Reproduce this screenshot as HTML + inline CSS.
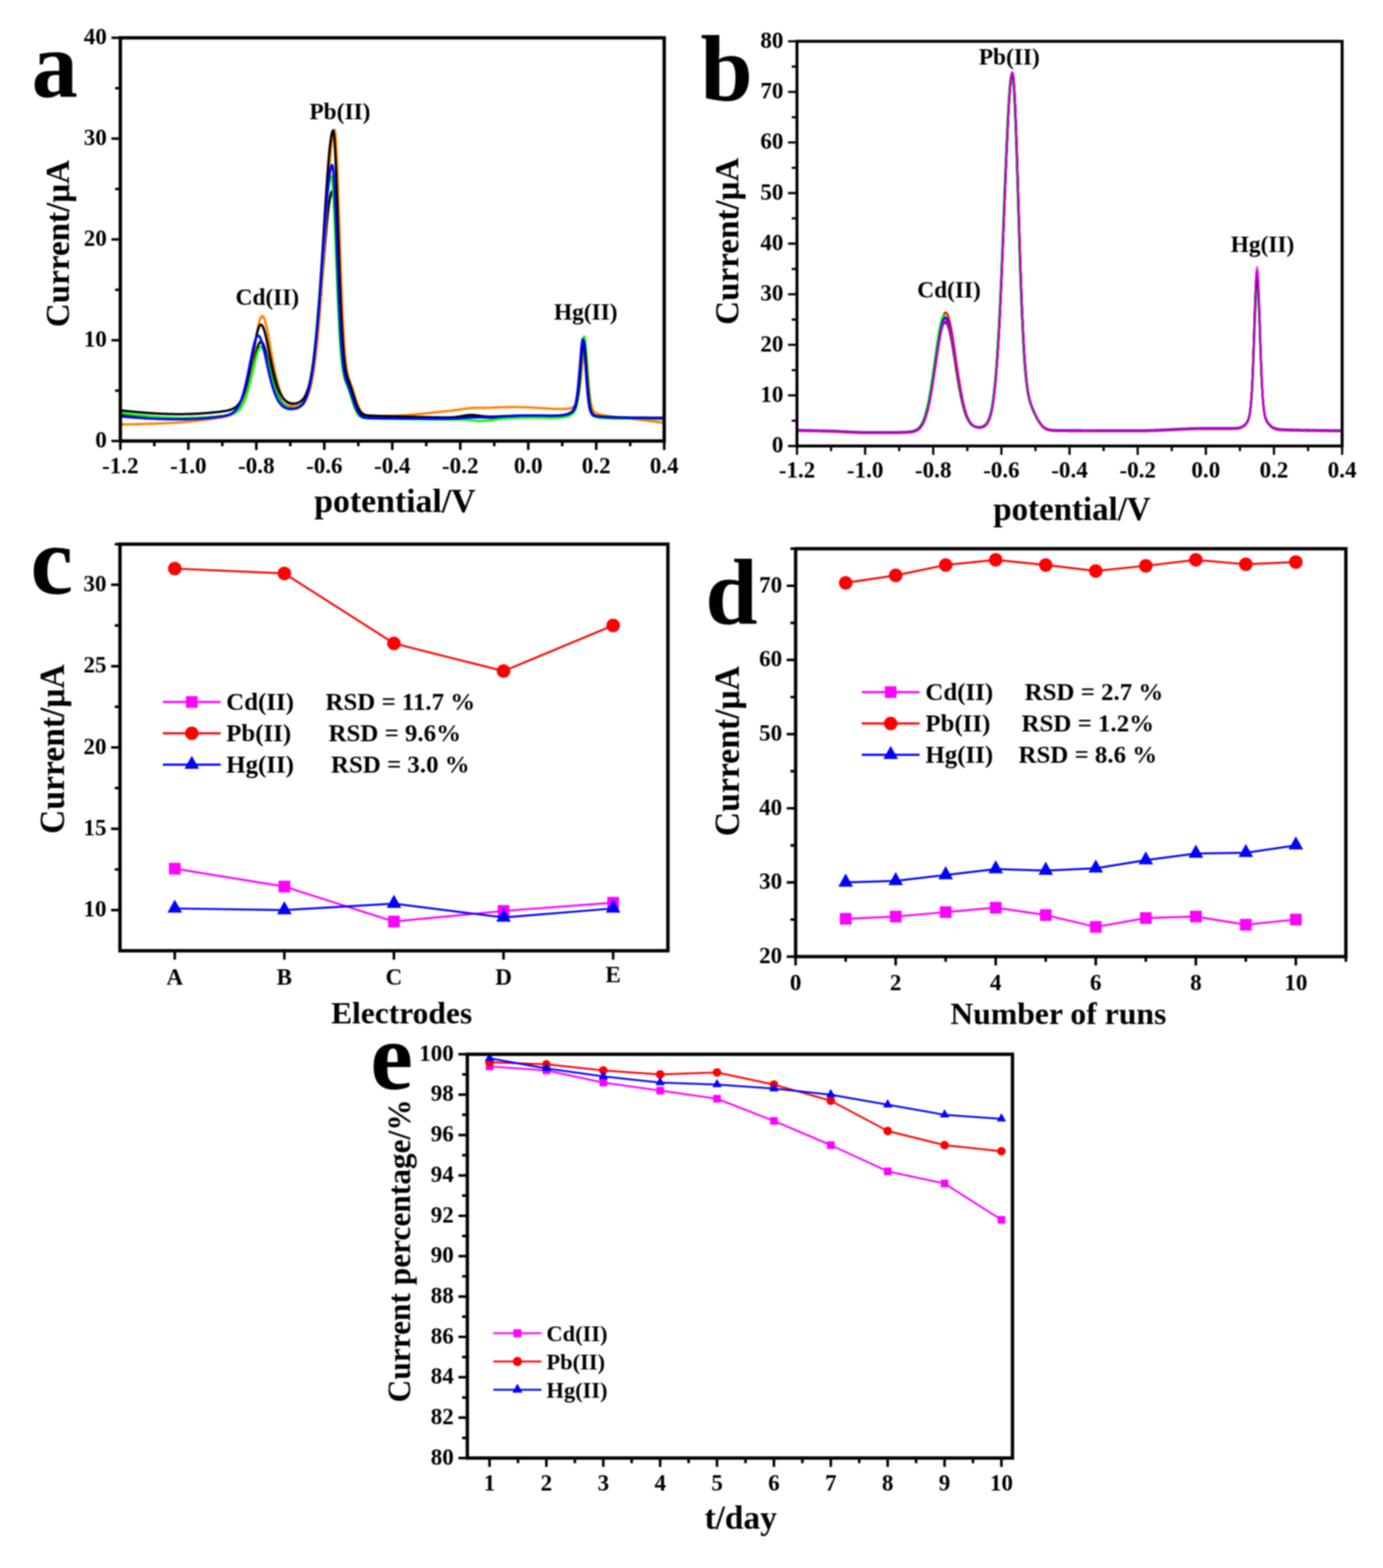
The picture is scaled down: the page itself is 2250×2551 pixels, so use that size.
<!DOCTYPE html>
<html lang="en"><head><meta charset="utf-8"><title>Figure</title>
<style>html,body{margin:0;padding:0;background:#fff}svg{display:block;filter:blur(0.8px)}text{font-family:"Liberation Serif", serif;font-weight:bold;fill:#000}</style></head><body>
<svg width="2250" height="2551" viewBox="0 0 2250 2551">
<rect width="2250" height="2551" fill="#fff"/>
<g id="panel-a">
<polyline points="195.8,674.3 196.9,674.4 198,674.5 199.1,674.6 200.2,674.8 201.3,674.9 202.4,675 203.5,675.1 204.6,675.3 205.8,675.4 206.9,675.5 208,675.6 209.1,675.7 210.2,675.9 211.3,676 212.4,676.1 213.5,676.2 214.6,676.3 215.7,676.4 216.8,676.5 217.9,676.6 219,676.7 220.1,676.8 221.2,676.9 222.3,677.1 223.5,677.2 224.6,677.3 225.7,677.4 226.8,677.5 227.9,677.6 229,677.6 230.1,677.7 231.2,677.8 232.3,677.9 233.4,678 234.5,678.1 235.6,678.2 236.7,678.3 237.8,678.4 238.9,678.5 240,678.5 241.1,678.6 242.3,678.7 243.4,678.8 244.5,678.9 245.6,678.9 246.7,679 247.8,679.1 248.9,679.1 250,679.2 251.1,679.3 252.2,679.4 253.3,679.4 254.4,679.5 255.5,679.5 256.6,679.6 257.7,679.7 258.8,679.7 259.9,679.8 261.1,679.8 262.2,679.9 263.3,679.9 264.4,680 265.5,680 266.6,680.1 267.7,680.1 268.8,680.2 269.9,680.2 271,680.2 272.1,680.3 273.2,680.3 274.3,680.4 275.4,680.4 276.5,680.4 277.6,680.5 278.7,680.5 279.9,680.5 281,680.5 282.1,680.5 283.2,680.6 284.3,680.6 285.4,680.6 286.5,680.6 287.6,680.6 288.7,680.6 289.8,680.6 290.9,680.7 292,680.7 293.1,680.7 294.2,680.7 295.3,680.7 296.4,680.7 297.6,680.6 298.7,680.6 299.8,680.6 300.9,680.6 302,680.6 303.1,680.6 304.2,680.6 305.3,680.5 306.4,680.5 307.5,680.5 308.6,680.5 309.7,680.4 310.8,680.4 311.9,680.4 313,680.3 314.1,680.3 315.2,680.3 316.4,680.2 317.5,680.2 318.6,680.1 319.7,680.1 320.8,680 321.9,680 323,679.9 324.1,679.9 325.2,679.8 326.3,679.7 327.4,679.7 328.5,679.6 329.6,679.6 330.7,679.5 331.8,679.4 332.9,679.4 334.1,679.3 335.2,679.2 336.3,679.1 337.4,679.1 338.5,679 339.6,678.9 340.7,678.8 341.8,678.7 342.9,678.7 344,678.6 345.1,678.5 346.2,678.4 347.3,678.3 348.4,678.2 349.5,678.1 350.6,678 351.7,677.9 352.9,677.8 354,677.7 355.1,677.6 356.2,677.4 357.3,677.3 358.4,677.2 359.5,677.1 360.6,676.9 361.7,676.8 362.8,676.7 363.9,676.5 365,676.3 366.1,676.2 367.2,676 368.3,675.8 369.4,675.6 370.5,675.4 371.7,675.1 372.8,674.9 373.9,674.6 375,674.3 376.1,674 377.2,673.6 378.3,673.2 379.4,672.7 380.5,672.2 381.6,671.7 382.7,671 383.8,670.3 384.9,669.5 386,668.6 387.1,667.6 388.2,666.4 389.4,665.2 390.5,663.7 391.6,662.1 392.7,660.3 393.8,658.4 394.9,656.2 396,653.8 397.1,651.1 398.2,648.3 399.3,645.2 400.4,641.8 401.5,638.2 402.6,634.3 403.7,630.2 404.8,625.9 405.9,621.3 407,616.6 408.2,611.7 409.3,606.7 410.4,601.6 411.5,596.4 412.6,591.3 413.7,586.2 414.8,581.3 415.9,576.5 417,572.1 418.1,568 419.2,564.4 420.3,561.4 421.4,558.9 422.5,557.2 423.6,556.2 424.7,555.9 425.8,556.4 427,557.5 428.1,559.4 429.2,561.8 430.3,564.8 431.4,568.2 432.5,572.1 433.6,576.2 434.7,580.6 435.8,585.1 436.9,589.7 438,594.4 439.1,599 440.2,603.6 441.3,608.1 442.4,612.5 443.5,616.7 444.6,620.8 445.8,624.7 446.9,628.4 448,631.8 449.1,635.1 450.2,638.1 451.3,641 452.4,643.6 453.5,646 454.6,648.2 455.7,650.3 456.8,652.1 457.9,653.8 459,655.3 460.1,656.6 461.2,657.8 462.3,658.9 463.5,659.8 464.6,660.6 465.7,661.4 466.8,662 467.9,662.5 469,663 470.1,663.3 471.2,663.7 472.3,663.9 473.4,664.1 474.5,664.2 475.6,664.3 476.7,664.3 477.8,664.3 478.9,664.3 480,664.1 481.1,664 482.3,663.7 483.4,663.5 484.5,663.1 485.6,662.7 486.7,662.2 487.8,661.6 488.9,660.9 490,660.1 491.1,659.2 492.2,658.1 493.3,656.9 494.4,655.5 495.5,653.9 496.6,652 497.7,649.9 498.8,647.5 499.9,644.8 501.1,641.7 502.2,638.3 503.3,634.4 504.4,630.1 505.5,625.3 506.6,620 507.7,614.1 508.8,607.7 509.9,600.7 511,593 512.1,584.7 513.2,575.7 514.3,566.1 515.4,555.9 516.5,545 517.6,533.5 518.8,521.5 519.9,508.9 521,495.8 522.1,482.4 523.2,468.6 524.3,454.7 525.4,440.6 526.5,426.5 527.6,412.5 528.7,398.8 529.8,385.5 530.9,372.9 532,360.9 533.1,349.9 534.2,340 535.3,331.3 536.4,324 537.6,318.2 538.7,314 539.8,311.5 540.9,311.2 542,316.5 543.1,327.5 544.2,343.6 545.3,363.7 546.4,387 547.5,412.1 548.6,438.1 549.7,463.9 550.8,488.7 551.9,511.7 553,532.5 554.1,550.7 555.2,566.3 556.4,579.3 557.5,589.9 558.6,598.3 559.7,604.9 560.8,610.1 561.9,614.2 563,617.5 564.1,620.3 565.2,622.9 566.3,625.5 567.4,628.2 568.5,631 569.6,634.1 570.7,637.4 571.8,640.8 572.9,644.3 574.1,647.8 575.2,651.3 576.3,654.6 577.4,657.8 578.5,660.8 579.6,663.5 580.7,666 581.8,668.2 582.9,670.1 584,671.7 585.1,673.1 586.2,674.2 587.3,675.2 588.4,675.9 589.5,676.6 590.6,677 591.7,677.4 592.9,677.7 594,678 595.1,678.1 596.2,678.3 597.3,678.4 598.4,678.5 599.5,678.5 600.6,678.6 601.7,678.6 602.8,678.6 603.9,678.7 605,678.7 606.1,678.7 607.2,678.7 608.3,678.8 609.4,678.8 610.5,678.8 611.7,678.8 612.8,678.8 613.9,678.8 615,678.9 616.1,678.9 617.2,678.9 618.3,678.9 619.4,678.9 620.5,678.9 621.6,678.9 622.7,679 623.8,679 624.9,679 626,679 627.1,679 628.2,679 629.4,679 630.5,679 631.6,679 632.7,679 633.8,679.1 634.9,679.1 636,679.1 637.1,679.1 638.2,679.1 639.3,679.1 640.4,679.1 641.5,679.1 642.6,679.1 643.7,679.1 644.8,679.2 645.9,679.2 647,679.2 648.2,679.2 649.3,679.2 650.4,679.2 651.5,679.3 652.6,679.3 653.7,679.3 654.8,679.3 655.9,679.3 657,679.3 658.1,679.4 659.2,679.4 660.3,679.4 661.4,679.4 662.5,679.4 663.6,679.5 664.7,679.5 665.8,679.5 667,679.5 668.1,679.6 669.2,679.6 670.3,679.6 671.4,679.6 672.5,679.7 673.6,679.7 674.7,679.7 675.8,679.7 676.9,679.8 678,679.8 679.1,679.8 680.2,679.9 681.3,679.9 682.4,679.9 683.5,679.9 684.7,680 685.8,680 686.9,680 688,680 689.1,680.1 690.2,680.1 691.3,680.1 692.4,680.2 693.5,680.2 694.6,680.2 695.7,680.2 696.8,680.3 697.9,680.3 699,680.3 700.1,680.3 701.2,680.4 702.3,680.4 703.5,680.4 704.6,680.5 705.7,680.5 706.8,680.5 707.9,680.5 709,680.6 710.1,680.6 711.2,680.6 712.3,680.6 713.4,680.7 714.5,680.7 715.6,680.7 716.7,680.7 717.8,680.7 718.9,680.7 720,680.8 721.2,680.8 722.3,680.8 723.4,680.8 724.5,680.8 725.6,680.8 726.7,680.8 727.8,680.8 728.9,680.8 730,680.8 731.1,680.8 732.2,680.7 733.3,680.7 734.4,680.6 735.5,680.6 736.6,680.5 737.7,680.4 738.8,680.4 740,680.3 741.1,680.1 742.2,680 743.3,679.9 744.4,679.7 745.5,679.6 746.6,679.4 747.7,679.2 748.8,679.1 749.9,678.9 751,678.7 752.1,678.5 753.2,678.3 754.3,678.1 755.4,677.9 756.5,677.7 757.6,677.5 758.8,677.4 759.9,677.2 761,677.1 762.1,677 763.2,676.9 764.3,676.9 765.4,676.8 766.5,676.8 767.6,676.8 768.7,676.8 769.8,676.9 770.9,677 772,677.1 773.1,677.2 774.2,677.3 775.3,677.4 776.5,677.6 777.6,677.7 778.7,677.9 779.8,678.1 780.9,678.2 782,678.4 783.1,678.5 784.2,678.6 785.3,678.8 786.4,678.9 787.5,679 788.6,679.1 789.7,679.2 790.8,679.3 791.9,679.3 793,679.4 794.1,679.4 795.3,679.4 796.4,679.5 797.5,679.5 798.6,679.5 799.7,679.5 800.8,679.4 801.9,679.4 803,679.4 804.1,679.4 805.2,679.3 806.3,679.3 807.4,679.3 808.5,679.2 809.6,679.2 810.7,679.1 811.8,679.1 812.9,679.1 814.1,679 815.2,679 816.3,678.9 817.4,678.9 818.5,678.8 819.6,678.8 820.7,678.7 821.8,678.7 822.9,678.6 824,678.6 825.1,678.5 826.2,678.5 827.3,678.5 828.4,678.4 829.5,678.4 830.6,678.3 831.8,678.3 832.9,678.3 834,678.2 835.1,678.2 836.2,678.1 837.3,678.1 838.4,678.1 839.5,678 840.6,678 841.7,678 842.8,677.9 843.9,677.9 845,677.9 846.1,677.9 847.2,677.8 848.3,677.8 849.4,677.8 850.6,677.8 851.7,677.8 852.8,677.7 853.9,677.7 855,677.7 856.1,677.7 857.2,677.7 858.3,677.7 859.4,677.7 860.5,677.6 861.6,677.6 862.7,677.6 863.8,677.6 864.9,677.7 866,677.7 867.1,677.7 868.2,677.7 869.4,677.7 870.5,677.7 871.6,677.7 872.7,677.7 873.8,677.7 874.9,677.8 876,677.8 877.1,677.8 878.2,677.8 879.3,677.9 880.4,677.9 881.5,677.9 882.6,677.9 883.7,677.9 884.8,678 885.9,678 887,678 888.2,678 889.3,678 890.4,678.1 891.5,678.1 892.6,678.1 893.7,678.1 894.8,678.1 895.9,678.1 897,678.1 898.1,678.1 899.2,678.1 900.3,678.1 901.4,678.1 902.5,678.1 903.6,678 904.7,678 905.9,678 907,677.9 908.1,677.9 909.2,677.8 910.3,677.8 911.4,677.7 912.5,677.6 913.6,677.5 914.7,677.4 915.8,677.2 916.9,677.1 918,676.9 919.1,676.8 920.2,676.5 921.3,676.3 922.4,676.1 923.5,675.8 924.7,675.4 925.8,675.1 926.9,674.6 928,674.1 929.1,673.5 930.2,672.8 931.3,672 932.4,670.9 933.5,669.6 934.6,667.8 935.7,665.5 936.8,662.4 937.9,658.3 939,653.1 940.1,646.3 941.2,638 942.3,627.9 943.5,616.2 944.6,603.3 945.7,589.9 946.8,577.4 947.9,567.6 949,562.5 950.1,563.5 951.2,570.7 952.3,582.5 953.4,597 954.5,612.3 955.6,627 956.7,639.9 957.8,650.6 958.9,658.9 960,665.1 961.2,669.5 962.3,672.5 963.4,674.5 964.5,675.8 965.6,676.7 966.7,677.3 967.8,677.7 968.9,678.1 970,678.3 971.1,678.6 972.2,678.8 973.3,678.9 974.4,679.1 975.5,679.2 976.6,679.3 977.7,679.4 978.8,679.5 980,679.6 981.1,679.7 982.2,679.8 983.3,679.9 984.4,679.9 985.5,680 986.6,680 987.7,680.1 988.8,680.1 989.9,680.2 991,680.2 992.1,680.3 993.2,680.3 994.3,680.3 995.4,680.4 996.5,680.4 997.6,680.4 998.8,680.5 999.9,680.5 1001,680.5 1002.1,680.6 1003.2,680.6 1004.3,680.6 1005.4,680.6 1006.5,680.7 1007.6,680.7 1008.7,680.7 1009.8,680.7 1010.9,680.7 1012,680.8 1013.1,680.8 1014.2,680.8 1015.3,680.8 1016.5,680.8 1017.6,680.8 1018.7,680.9 1019.8,680.9 1020.9,680.9 1022,680.9 1023.1,680.9 1024.2,680.9 1025.3,681 1026.4,681 1027.5,681 1028.6,681 1029.7,681 1030.8,681 1031.9,681 1033,681 1034.1,681.1 1035.3,681.1 1036.4,681.1 1037.5,681.1 1038.6,681.1 1039.7,681.1 1040.8,681.1 1041.9,681.1 1043,681.1 1044.1,681.1 1045.2,681.2 1046.3,681.2 1047.4,681.2 1048.5,681.2 1049.6,681.2 1050.7,681.2 1051.8,681.2 1053,681.2 1054.1,681.2 1055.2,681.2 1056.3,681.2 1057.4,681.2 1058.5,681.2 1059.6,681.2 1060.7,681.2 1061.8,681.3 1062.9,681.3 1064,681.3 1065.1,681.3 1066.2,681.3 1067.3,681.3 1068.4,681.3 1069.5,681.3 1070.6,681.3 1071.8,681.3 1072.9,681.3 1074,681.3 1075.1,681.3 1076.2,681.3 1077.3,681.3 1078.4,681.3 1079.5,681.3 1080.6,681.3" fill="none" stroke="#000000" stroke-width="3.8" stroke-linejoin="round" stroke-linecap="butt"/>
<polyline points="195.8,690.5 196.9,690.5 198,690.5 199.1,690.5 200.2,690.5 201.3,690.4 202.4,690.4 203.5,690.4 204.6,690.4 205.8,690.4 206.9,690.4 208,690.4 209.1,690.4 210.2,690.3 211.3,690.3 212.4,690.3 213.5,690.3 214.6,690.3 215.7,690.2 216.8,690.2 217.9,690.2 219,690.2 220.1,690.1 221.2,690.1 222.3,690.1 223.5,690.1 224.6,690 225.7,690 226.8,690 227.9,690 229,689.9 230.1,689.9 231.2,689.9 232.3,689.8 233.4,689.8 234.5,689.8 235.6,689.7 236.7,689.7 237.8,689.7 238.9,689.6 240,689.6 241.1,689.6 242.3,689.5 243.4,689.5 244.5,689.4 245.6,689.4 246.7,689.4 247.8,689.3 248.9,689.3 250,689.3 251.1,689.2 252.2,689.2 253.3,689.1 254.4,689.1 255.5,689 256.6,689 257.7,689 258.8,688.9 259.9,688.9 261.1,688.8 262.2,688.8 263.3,688.7 264.4,688.7 265.5,688.6 266.6,688.6 267.7,688.5 268.8,688.5 269.9,688.4 271,688.4 272.1,688.3 273.2,688.3 274.3,688.2 275.4,688.2 276.5,688.1 277.6,688.1 278.7,688 279.9,688 281,687.9 282.1,687.9 283.2,687.8 284.3,687.8 285.4,687.7 286.5,687.6 287.6,687.5 288.7,687.5 289.8,687.4 290.9,687.3 292,687.2 293.1,687.2 294.2,687.1 295.3,687 296.4,686.9 297.6,686.8 298.7,686.7 299.8,686.6 300.9,686.5 302,686.4 303.1,686.3 304.2,686.2 305.3,686.1 306.4,686 307.5,685.9 308.6,685.8 309.7,685.7 310.8,685.6 311.9,685.5 313,685.4 314.1,685.3 315.2,685.2 316.4,685 317.5,684.9 318.6,684.8 319.7,684.7 320.8,684.6 321.9,684.4 323,684.3 324.1,684.2 325.2,684.1 326.3,683.9 327.4,683.8 328.5,683.7 329.6,683.5 330.7,683.4 331.8,683.3 332.9,683.1 334.1,683 335.2,682.8 336.3,682.7 337.4,682.6 338.5,682.4 339.6,682.3 340.7,682.1 341.8,682 342.9,681.8 344,681.7 345.1,681.5 346.2,681.4 347.3,681.2 348.4,681 349.5,680.9 350.6,680.7 351.7,680.5 352.9,680.4 354,680.2 355.1,680 356.2,679.8 357.3,679.7 358.4,679.5 359.5,679.3 360.6,679.1 361.7,678.9 362.8,678.7 363.9,678.5 365,678.2 366.1,678 367.2,677.8 368.3,677.5 369.4,677.2 370.5,676.9 371.7,676.6 372.8,676.3 373.9,676 375,675.6 376.1,675.2 377.2,674.7 378.3,674.2 379.4,673.7 380.5,673.1 381.6,672.5 382.7,671.8 383.8,670.9 384.9,670 386,669 387.1,667.9 388.2,666.6 389.4,665.2 390.5,663.6 391.6,661.8 392.7,659.8 393.8,657.6 394.9,655.1 396,652.3 397.1,649.3 398.2,646 399.3,642.4 400.4,638.4 401.5,634.1 402.6,629.5 403.7,624.5 404.8,619.2 405.9,613.6 407,607.7 408.2,601.5 409.3,595 410.4,588.4 411.5,581.6 412.6,574.6 413.7,567.6 414.8,560.7 415.9,553.9 417,547.2 418.1,540.9 419.2,535 420.3,529.6 421.4,524.9 422.5,520.9 423.6,517.8 424.7,515.6 425.8,514.4 427,514.3 428.1,515.1 429.2,516.8 430.3,519.4 431.4,522.9 432.5,527 433.6,531.7 434.7,537 435.8,542.6 436.9,548.6 438,554.7 439.1,560.9 440.2,567.2 441.3,573.5 442.4,579.6 443.5,585.7 444.6,591.6 445.8,597.2 446.9,602.6 448,607.8 449.1,612.7 450.2,617.3 451.3,621.7 452.4,625.7 453.5,629.5 454.6,633 455.7,636.2 456.8,639.1 457.9,641.8 459,644.2 460.1,646.4 461.2,648.4 462.3,650.2 463.5,651.8 464.6,653.2 465.7,654.4 466.8,655.5 467.9,656.5 469,657.3 470.1,658 471.2,658.7 472.3,659.2 473.4,659.6 474.5,659.9 475.6,660.2 476.7,660.4 477.8,660.5 478.9,660.6 480,660.6 481.1,660.6 482.3,660.5 483.4,660.3 484.5,660.1 485.6,659.8 486.7,659.5 487.8,659 488.9,658.5 490,657.9 491.1,657.2 492.2,656.3 493.3,655.4 494.4,654.2 495.5,652.9 496.6,651.5 497.7,649.7 498.8,647.8 499.9,645.6 501.1,643 502.2,640.1 503.3,636.8 504.4,633.1 505.5,629 506.6,624.3 507.7,619.1 508.8,613.2 509.9,606.8 511,599.6 512.1,591.8 513.2,583.1 514.3,573.7 515.4,563.5 516.5,552.5 517.6,540.7 518.8,528 519.9,514.5 521,500.3 522.1,485.3 523.2,469.5 524.3,453.2 525.4,436.3 526.5,419 527.6,401.3 528.7,383.5 529.8,365.5 530.9,347.7 532,330.1 533.1,313 534.2,296.5 535.3,280.9 536.4,266.4 537.6,253.2 538.7,241.4 539.8,231.4 540.9,223.3 542,217.2 543.1,213.2 544.2,211.3 545.3,214.8 546.4,225.9 547.5,243.9 548.6,267.7 549.7,296.2 550.8,327.7 551.9,361.1 553,394.8 554.1,427.7 555.2,458.8 556.4,487.4 557.5,512.9 558.6,535 559.7,553.8 560.8,569.4 561.9,582 563,592 564.1,599.9 565.2,606.1 566.3,610.9 567.4,614.9 568.5,618.3 569.6,621.3 570.7,624.3 571.8,627.4 572.9,630.5 574.1,633.8 575.2,637.3 576.3,640.8 577.4,644.3 578.5,647.9 579.6,651.3 580.7,654.6 581.8,657.7 582.9,660.5 584,663.1 585.1,665.4 586.2,667.5 587.3,669.2 588.4,670.7 589.5,672 590.6,673 591.7,673.8 592.9,674.5 594,675 595.1,675.5 596.2,675.8 597.3,676 598.4,676.2 599.5,676.4 600.6,676.5 601.7,676.6 602.8,676.6 603.9,676.7 605,676.7 606.1,676.7 607.2,676.7 608.3,676.7 609.4,676.7 610.5,676.7 611.7,676.7 612.8,676.7 613.9,676.7 615,676.7 616.1,676.7 617.2,676.7 618.3,676.7 619.4,676.7 620.5,676.7 621.6,676.7 622.7,676.7 623.8,676.7 624.9,676.6 626,676.6 627.1,676.6 628.2,676.6 629.4,676.6 630.5,676.6 631.6,676.5 632.7,676.5 633.8,676.5 634.9,676.5 636,676.4 637.1,676.4 638.2,676.4 639.3,676.4 640.4,676.3 641.5,676.3 642.6,676.3 643.7,676.2 644.8,676.2 645.9,676.1 647,676.1 648.2,676 649.3,676 650.4,675.9 651.5,675.9 652.6,675.8 653.7,675.7 654.8,675.7 655.9,675.6 657,675.5 658.1,675.5 659.2,675.4 660.3,675.3 661.4,675.2 662.5,675.2 663.6,675.1 664.7,675 665.8,674.9 667,674.8 668.1,674.7 669.2,674.6 670.3,674.5 671.4,674.4 672.5,674.4 673.6,674.3 674.7,674.2 675.8,674.1 676.9,674 678,673.9 679.1,673.8 680.2,673.7 681.3,673.5 682.4,673.4 683.5,673.3 684.7,673.2 685.8,673.1 686.9,673 688,672.9 689.1,672.8 690.2,672.7 691.3,672.6 692.4,672.4 693.5,672.3 694.6,672.2 695.7,672.1 696.8,672 697.9,671.9 699,671.8 700.1,671.6 701.2,671.5 702.3,671.4 703.5,671.3 704.6,671.2 705.7,671.1 706.8,670.9 707.9,670.8 709,670.7 710.1,670.6 711.2,670.5 712.3,670.4 713.4,670.3 714.5,670.1 715.6,670 716.7,669.9 717.8,669.8 718.9,669.7 720,669.6 721.2,669.5 722.3,669.3 723.4,669.2 724.5,669.1 725.6,669 726.7,668.9 727.8,668.8 728.9,668.7 730,668.5 731.1,668.4 732.2,668.3 733.3,668.2 734.4,668 735.5,667.9 736.6,667.8 737.7,667.6 738.8,667.5 740,667.4 741.1,667.2 742.2,667.1 743.3,666.9 744.4,666.8 745.5,666.6 746.6,666.4 747.7,666.3 748.8,666.1 749.9,665.9 751,665.8 752.1,665.6 753.2,665.4 754.3,665.2 755.4,665.1 756.5,664.9 757.6,664.7 758.8,664.6 759.9,664.4 761,664.3 762.1,664.2 763.2,664.1 764.3,664 765.4,663.9 766.5,663.8 767.6,663.7 768.7,663.7 769.8,663.6 770.9,663.6 772,663.6 773.1,663.5 774.2,663.5 775.3,663.5 776.5,663.5 777.6,663.5 778.7,663.5 779.8,663.5 780.9,663.6 782,663.6 783.1,663.6 784.2,663.6 785.3,663.6 786.4,663.6 787.5,663.6 788.6,663.5 789.7,663.5 790.8,663.5 791.9,663.5 793,663.4 794.1,663.4 795.3,663.4 796.4,663.3 797.5,663.3 798.6,663.2 799.7,663.2 800.8,663.1 801.9,663.1 803,663 804.1,663 805.2,662.9 806.3,662.9 807.4,662.8 808.5,662.8 809.6,662.7 810.7,662.7 811.8,662.6 812.9,662.6 814.1,662.6 815.2,662.5 816.3,662.5 817.4,662.4 818.5,662.4 819.6,662.4 820.7,662.3 821.8,662.3 822.9,662.3 824,662.3 825.1,662.2 826.2,662.2 827.3,662.2 828.4,662.2 829.5,662.2 830.6,662.2 831.8,662.2 832.9,662.2 834,662.2 835.1,662.2 836.2,662.2 837.3,662.2 838.4,662.2 839.5,662.2 840.6,662.2 841.7,662.2 842.8,662.3 843.9,662.3 845,662.3 846.1,662.3 847.2,662.4 848.3,662.4 849.4,662.4 850.6,662.5 851.7,662.5 852.8,662.6 853.9,662.6 855,662.6 856.1,662.7 857.2,662.7 858.3,662.8 859.4,662.8 860.5,662.9 861.6,662.9 862.7,663 863.8,663 864.9,663.1 866,663.1 867.1,663.2 868.2,663.3 869.4,663.3 870.5,663.4 871.6,663.5 872.7,663.5 873.8,663.6 874.9,663.6 876,663.7 877.1,663.8 878.2,663.8 879.3,663.9 880.4,664 881.5,664 882.6,664.1 883.7,664.2 884.8,664.2 885.9,664.3 887,664.4 888.2,664.4 889.3,664.5 890.4,664.6 891.5,664.6 892.6,664.7 893.7,664.8 894.8,664.8 895.9,664.9 897,664.9 898.1,665 899.2,665 900.3,665.1 901.4,665.1 902.5,665.2 903.6,665.2 904.7,665.3 905.9,665.3 907,665.3 908.1,665.4 909.2,665.4 910.3,665.4 911.4,665.4 912.5,665.4 913.6,665.4 914.7,665.4 915.8,665.4 916.9,665.3 918,665.3 919.1,665.3 920.2,665.2 921.3,665.1 922.4,665 923.5,664.9 924.7,664.8 925.8,664.6 926.9,664.4 928,664.2 929.1,663.9 930.2,663.5 931.3,663.1 932.4,662.5 933.5,661.8 934.6,660.9 935.7,659.8 936.8,658.2 937.9,656.1 939,653.2 940.1,649.4 941.2,644.5 942.3,638.1 943.5,630.2 944.6,620.7 945.7,609.7 946.8,597.6 947.9,585.1 949,573.6 950.1,564.8 951.2,560.7 952.3,562.4 953.4,569.9 954.5,581.5 955.6,595.6 956.7,610.2 957.8,624 958.9,636.2 960,646.2 961.2,654 962.3,659.8 963.4,664 964.5,666.9 965.6,668.8 966.7,670.2 967.8,671.1 968.9,671.8 970,672.4 971.1,672.8 972.2,673.2 973.3,673.5 974.4,673.9 975.5,674.1 976.6,674.4 977.7,674.7 978.8,674.9 980,675.1 981.1,675.4 982.2,675.6 983.3,675.8 984.4,676 985.5,676.1 986.6,676.3 987.7,676.5 988.8,676.6 989.9,676.8 991,677 992.1,677.1 993.2,677.3 994.3,677.4 995.4,677.6 996.5,677.7 997.6,677.9 998.8,678 999.9,678.1 1001,678.3 1002.1,678.4 1003.2,678.6 1004.3,678.7 1005.4,678.8 1006.5,679 1007.6,679.1 1008.7,679.2 1009.8,679.3 1010.9,679.5 1012,679.6 1013.1,679.7 1014.2,679.9 1015.3,680 1016.5,680.1 1017.6,680.2 1018.7,680.4 1019.8,680.5 1020.9,680.6 1022,680.8 1023.1,680.9 1024.2,681 1025.3,681.2 1026.4,681.3 1027.5,681.4 1028.6,681.6 1029.7,681.7 1030.8,681.8 1031.9,682 1033,682.1 1034.1,682.2 1035.3,682.3 1036.4,682.5 1037.5,682.6 1038.6,682.7 1039.7,682.9 1040.8,683 1041.9,683.1 1043,683.3 1044.1,683.4 1045.2,683.5 1046.3,683.7 1047.4,683.8 1048.5,683.9 1049.6,684.1 1050.7,684.2 1051.8,684.3 1053,684.5 1054.1,684.6 1055.2,684.7 1056.3,684.9 1057.4,685 1058.5,685.1 1059.6,685.3 1060.7,685.4 1061.8,685.5 1062.9,685.7 1064,685.8 1065.1,685.9 1066.2,686.1 1067.3,686.2 1068.4,686.4 1069.5,686.5 1070.6,686.6 1071.8,686.8 1072.9,686.9 1074,687 1075.1,687.2 1076.2,687.3 1077.3,687.4 1078.4,687.6 1079.5,687.7 1080.6,687.8" fill="none" stroke="#ff8000" stroke-width="3.8" stroke-linejoin="round" stroke-linecap="butt"/>
<polyline points="195.8,671.8 196.9,671.9 198,672.1 199.1,672.2 200.2,672.4 201.3,672.5 202.4,672.7 203.5,672.8 204.6,672.9 205.8,673.1 206.9,673.2 208,673.3 209.1,673.5 210.2,673.6 211.3,673.8 212.4,673.9 213.5,674 214.6,674.2 215.7,674.3 216.8,674.4 217.9,674.5 219,674.7 220.1,674.8 221.2,674.9 222.3,675 223.5,675.2 224.6,675.3 225.7,675.4 226.8,675.5 227.9,675.7 229,675.8 230.1,675.9 231.2,676 232.3,676.1 233.4,676.2 234.5,676.3 235.6,676.5 236.7,676.6 237.8,676.7 238.9,676.8 240,676.9 241.1,677 242.3,677.1 243.4,677.2 244.5,677.3 245.6,677.4 246.7,677.5 247.8,677.6 248.9,677.7 250,677.8 251.1,677.8 252.2,677.9 253.3,678 254.4,678.1 255.5,678.2 256.6,678.3 257.7,678.3 258.8,678.4 259.9,678.5 261.1,678.6 262.2,678.6 263.3,678.7 264.4,678.8 265.5,678.8 266.6,678.9 267.7,679 268.8,679 269.9,679.1 271,679.1 272.1,679.2 273.2,679.2 274.3,679.3 275.4,679.3 276.5,679.4 277.6,679.4 278.7,679.5 279.9,679.5 281,679.6 282.1,679.6 283.2,679.6 284.3,679.6 285.4,679.7 286.5,679.7 287.6,679.7 288.7,679.7 289.8,679.8 290.9,679.8 292,679.8 293.1,679.8 294.2,679.8 295.3,679.8 296.4,679.8 297.6,679.8 298.7,679.8 299.8,679.8 300.9,679.8 302,679.8 303.1,679.8 304.2,679.8 305.3,679.7 306.4,679.7 307.5,679.7 308.6,679.7 309.7,679.6 310.8,679.6 311.9,679.6 313,679.5 314.1,679.5 315.2,679.5 316.4,679.5 317.5,679.4 318.6,679.4 319.7,679.4 320.8,679.3 321.9,679.3 323,679.3 324.1,679.2 325.2,679.2 326.3,679.1 327.4,679.1 328.5,679.1 329.6,679 330.7,679 331.8,678.9 332.9,678.9 334.1,678.8 335.2,678.8 336.3,678.7 337.4,678.7 338.5,678.6 339.6,678.6 340.7,678.5 341.8,678.5 342.9,678.4 344,678.3 345.1,678.3 346.2,678.2 347.3,678.1 348.4,678.1 349.5,678 350.6,677.9 351.7,677.8 352.9,677.7 354,677.7 355.1,677.6 356.2,677.5 357.3,677.4 358.4,677.3 359.5,677.2 360.6,677 361.7,676.9 362.8,676.8 363.9,676.7 365,676.5 366.1,676.4 367.2,676.2 368.3,676 369.4,675.9 370.5,675.7 371.7,675.4 372.8,675.2 373.9,675 375,674.7 376.1,674.4 377.2,674 378.3,673.7 379.4,673.3 380.5,672.8 381.6,672.3 382.7,671.7 383.8,671 384.9,670.3 386,669.4 387.1,668.5 388.2,667.4 389.4,666.2 390.5,664.9 391.6,663.4 392.7,661.8 393.8,659.9 394.9,657.9 396,655.7 397.1,653.2 398.2,650.5 399.3,647.6 400.4,644.5 401.5,641.1 402.6,637.5 403.7,633.7 404.8,629.7 405.9,625.4 407,621 408.2,616.5 409.3,611.8 410.4,607 411.5,602.2 412.6,597.4 413.7,592.7 414.8,588.1 415.9,583.7 417,579.5 418.1,575.7 419.2,572.4 420.3,569.5 421.4,567.3 422.5,565.6 423.6,564.7 424.7,564.4 425.8,564.9 427,566 428.1,567.7 429.2,570 430.3,572.7 431.4,575.9 432.5,579.5 433.6,583.4 434.7,587.4 435.8,591.7 436.9,596 438,600.3 439.1,604.7 440.2,608.9 441.3,613.1 442.4,617.2 443.5,621.2 444.6,624.9 445.8,628.6 446.9,632 448,635.2 449.1,638.3 450.2,641.1 451.3,643.7 452.4,646.2 453.5,648.4 454.6,650.5 455.7,652.3 456.8,654 457.9,655.6 459,656.9 460.1,658.2 461.2,659.3 462.3,660.3 463.5,661.1 464.6,661.9 465.7,662.5 466.8,663 467.9,663.5 469,663.9 470.1,664.2 471.2,664.5 472.3,664.7 473.4,664.8 474.5,664.9 475.6,664.9 476.7,664.8 477.8,664.7 478.9,664.6 480,664.4 481.1,664.1 482.3,663.8 483.4,663.4 484.5,662.9 485.6,662.3 486.7,661.6 487.8,660.8 488.9,659.9 490,658.8 491.1,657.6 492.2,656.2 493.3,654.6 494.4,652.7 495.5,650.6 496.6,648.2 497.7,645.5 498.8,642.4 499.9,638.9 501.1,635 502.2,630.6 503.3,625.8 504.4,620.3 505.5,614.4 506.6,607.8 507.7,600.6 508.8,592.7 509.9,584.1 511,574.9 512.1,564.9 513.2,554.3 514.3,543 515.4,531 516.5,518.4 517.6,505.2 518.8,491.4 519.9,477.2 521,462.7 522.1,447.8 523.2,432.7 524.3,417.6 525.4,402.6 526.5,387.7 527.6,373.3 528.7,359.3 529.8,346.1 530.9,333.8 532,322.6 533.1,312.6 534.2,304.1 535.3,297.1 536.4,291.8 537.6,288.2 538.7,286.5 539.8,289 540.9,297.9 542,312.6 543.1,332.2 544.2,355.8 545.3,382 546.4,409.8 547.5,437.9 548.6,465.3 549.7,491.2 550.8,515 551.9,536.1 553,554.5 554.1,570 555.2,582.8 556.4,593.2 557.5,601.4 558.6,607.8 559.7,612.9 560.8,616.9 561.9,620.2 563,623 564.1,625.8 565.2,628.5 566.3,631.4 567.4,634.4 568.5,637.6 569.6,641 570.7,644.5 571.8,648 572.9,651.5 574.1,655 575.2,658.3 576.3,661.4 577.4,664.2 578.5,666.8 579.6,669.2 580.7,671.2 581.8,673 582.9,674.5 584,675.8 585.1,676.8 586.2,677.7 587.3,678.4 588.4,679 589.5,679.4 590.6,679.8 591.7,680 592.9,680.3 594,680.4 595.1,680.5 596.2,680.6 597.3,680.7 598.4,680.8 599.5,680.8 600.6,680.9 601.7,680.9 602.8,681 603.9,681 605,681 606.1,681 607.2,681.1 608.3,681.1 609.4,681.1 610.5,681.1 611.7,681.2 612.8,681.2 613.9,681.2 615,681.2 616.1,681.3 617.2,681.3 618.3,681.3 619.4,681.3 620.5,681.3 621.6,681.3 622.7,681.4 623.8,681.4 624.9,681.4 626,681.4 627.1,681.4 628.2,681.4 629.4,681.5 630.5,681.5 631.6,681.5 632.7,681.5 633.8,681.5 634.9,681.5 636,681.5 637.1,681.6 638.2,681.6 639.3,681.6 640.4,681.6 641.5,681.6 642.6,681.6 643.7,681.6 644.8,681.7 645.9,681.7 647,681.7 648.2,681.7 649.3,681.7 650.4,681.7 651.5,681.7 652.6,681.8 653.7,681.8 654.8,681.8 655.9,681.8 657,681.8 658.1,681.8 659.2,681.8 660.3,681.9 661.4,681.9 662.5,681.9 663.6,681.9 664.7,681.9 665.8,681.9 667,682 668.1,682 669.2,682 670.3,682 671.4,682 672.5,682 673.6,682 674.7,682.1 675.8,682.1 676.9,682.1 678,682.1 679.1,682.1 680.2,682.1 681.3,682.1 682.4,682.2 683.5,682.2 684.7,682.2 685.8,682.2 686.9,682.2 688,682.2 689.1,682.2 690.2,682.3 691.3,682.3 692.4,682.3 693.5,682.3 694.6,682.3 695.7,682.3 696.8,682.3 697.9,682.4 699,682.4 700.1,682.4 701.2,682.4 702.3,682.4 703.5,682.4 704.6,682.4 705.7,682.5 706.8,682.5 707.9,682.5 709,682.5 710.1,682.5 711.2,682.5 712.3,682.5 713.4,682.5 714.5,682.5 715.6,682.6 716.7,682.6 717.8,682.6 718.9,682.6 720,682.6 721.2,682.6 722.3,682.6 723.4,682.6 724.5,682.6 725.6,682.6 726.7,682.6 727.8,682.6 728.9,682.6 730,682.6 731.1,682.6 732.2,682.6 733.3,682.6 734.4,682.6 735.5,682.6 736.6,682.6 737.7,682.6 738.8,682.6 740,682.6 741.1,682.6 742.2,682.6 743.3,682.6 744.4,682.6 745.5,682.6 746.6,682.5 747.7,682.5 748.8,682.5 749.9,682.5 751,682.5 752.1,682.6 753.2,682.6 754.3,682.6 755.4,682.6 756.5,682.7 757.6,682.7 758.8,682.8 759.9,682.9 761,682.9 762.1,683 763.2,683.1 764.3,683.3 765.4,683.4 766.5,683.5 767.6,683.6 768.7,683.8 769.8,683.9 770.9,684.1 772,684.2 773.1,684.3 774.2,684.5 775.3,684.6 776.5,684.7 777.6,684.8 778.7,684.8 779.8,684.9 780.9,684.9 782,684.9 783.1,684.9 784.2,684.9 785.3,684.8 786.4,684.8 787.5,684.7 788.6,684.7 789.7,684.6 790.8,684.5 791.9,684.4 793,684.2 794.1,684.1 795.3,684 796.4,683.8 797.5,683.7 798.6,683.5 799.7,683.4 800.8,683.2 801.9,683 803,682.9 804.1,682.7 805.2,682.6 806.3,682.4 807.4,682.3 808.5,682.1 809.6,682 810.7,681.8 811.8,681.7 812.9,681.5 814.1,681.4 815.2,681.3 816.3,681.2 817.4,681.1 818.5,680.9 819.6,680.8 820.7,680.8 821.8,680.7 822.9,680.6 824,680.5 825.1,680.4 826.2,680.3 827.3,680.3 828.4,680.2 829.5,680.1 830.6,680.1 831.8,680 832.9,680 834,679.9 835.1,679.9 836.2,679.8 837.3,679.8 838.4,679.7 839.5,679.7 840.6,679.7 841.7,679.6 842.8,679.6 843.9,679.5 845,679.5 846.1,679.5 847.2,679.5 848.3,679.4 849.4,679.4 850.6,679.4 851.7,679.4 852.8,679.3 853.9,679.3 855,679.3 856.1,679.3 857.2,679.3 858.3,679.3 859.4,679.3 860.5,679.3 861.6,679.3 862.7,679.3 863.8,679.3 864.9,679.3 866,679.3 867.1,679.3 868.2,679.3 869.4,679.3 870.5,679.3 871.6,679.3 872.7,679.4 873.8,679.4 874.9,679.4 876,679.4 877.1,679.5 878.2,679.5 879.3,679.5 880.4,679.5 881.5,679.6 882.6,679.6 883.7,679.6 884.8,679.6 885.9,679.7 887,679.7 888.2,679.7 889.3,679.7 890.4,679.7 891.5,679.8 892.6,679.8 893.7,679.8 894.8,679.8 895.9,679.8 897,679.8 898.1,679.8 899.2,679.8 900.3,679.8 901.4,679.7 902.5,679.7 903.6,679.7 904.7,679.6 905.9,679.6 907,679.5 908.1,679.5 909.2,679.4 910.3,679.3 911.4,679.2 912.5,679.1 913.6,679 914.7,678.8 915.8,678.7 916.9,678.5 918,678.3 919.1,678.1 920.2,677.9 921.3,677.6 922.4,677.3 923.5,677 924.7,676.7 925.8,676.3 926.9,675.8 928,675.3 929.1,674.7 930.2,674 931.3,673.2 932.4,672.1 933.5,670.9 934.6,669.3 935.7,667.2 936.8,664.4 937.9,660.8 939,656.1 940.1,649.9 941.2,642 942.3,632.3 943.5,620.6 944.6,607.1 945.7,592.3 946.8,577.1 947.9,563 949,552.2 950.1,547.1 951.2,548.9 952.3,557.7 953.4,571.6 954.5,588.3 955.6,605.7 956.7,622.1 957.8,636.6 958.9,648.5 960,657.7 961.2,664.5 962.3,669.3 963.4,672.6 964.5,674.8 965.6,676.2 966.7,677.1 967.8,677.8 968.9,678.2 970,678.6 971.1,678.9 972.2,679.1 973.3,679.3 974.4,679.5 975.5,679.6 976.6,679.8 977.7,679.9 978.8,680 980,680.1 981.1,680.2 982.2,680.3 983.3,680.3 984.4,680.4 985.5,680.5 986.6,680.5 987.7,680.6 988.8,680.6 989.9,680.6 991,680.7 992.1,680.7 993.2,680.7 994.3,680.8 995.4,680.8 996.5,680.8 997.6,680.9 998.8,680.9 999.9,680.9 1001,680.9 1002.1,680.9 1003.2,680.9 1004.3,681 1005.4,681 1006.5,681 1007.6,681 1008.7,681 1009.8,681 1010.9,681 1012,681.1 1013.1,681.1 1014.2,681.1 1015.3,681.1 1016.5,681.1 1017.6,681.1 1018.7,681.1 1019.8,681.1 1020.9,681.1 1022,681.1 1023.1,681.1 1024.2,681.1 1025.3,681.2 1026.4,681.2 1027.5,681.2 1028.6,681.2 1029.7,681.2 1030.8,681.2 1031.9,681.2 1033,681.2 1034.1,681.2 1035.3,681.2 1036.4,681.2 1037.5,681.2 1038.6,681.2 1039.7,681.2 1040.8,681.2 1041.9,681.2 1043,681.2 1044.1,681.2 1045.2,681.2 1046.3,681.2 1047.4,681.2 1048.5,681.2 1049.6,681.2 1050.7,681.2 1051.8,681.3 1053,681.3 1054.1,681.3 1055.2,681.3 1056.3,681.3 1057.4,681.3 1058.5,681.3 1059.6,681.3 1060.7,681.3 1061.8,681.3 1062.9,681.3 1064,681.3 1065.1,681.3 1066.2,681.3 1067.3,681.3 1068.4,681.3 1069.5,681.3 1070.6,681.3 1071.8,681.3 1072.9,681.3 1074,681.3 1075.1,681.3 1076.2,681.3 1077.3,681.3 1078.4,681.3 1079.5,681.3 1080.6,681.3" fill="none" stroke="#00ff00" stroke-width="3.8" stroke-linejoin="round" stroke-linecap="butt"/>
<polyline points="195.8,667.6 196.9,667.7 198,667.8 199.1,667.9 200.2,668.1 201.3,668.2 202.4,668.3 203.5,668.4 204.6,668.6 205.8,668.7 206.9,668.8 208,668.9 209.1,669 210.2,669.1 211.3,669.3 212.4,669.4 213.5,669.5 214.6,669.6 215.7,669.7 216.8,669.8 217.9,669.9 219,670 220.1,670.1 221.2,670.2 222.3,670.3 223.5,670.4 224.6,670.5 225.7,670.6 226.8,670.7 227.9,670.8 229,670.9 230.1,671 231.2,671.1 232.3,671.2 233.4,671.3 234.5,671.4 235.6,671.5 236.7,671.5 237.8,671.6 238.9,671.7 240,671.8 241.1,671.9 242.3,672 243.4,672 244.5,672.1 245.6,672.2 246.7,672.3 247.8,672.3 248.9,672.4 250,672.5 251.1,672.5 252.2,672.6 253.3,672.7 254.4,672.7 255.5,672.8 256.6,672.8 257.7,672.9 258.8,673 259.9,673 261.1,673.1 262.2,673.1 263.3,673.2 264.4,673.2 265.5,673.3 266.6,673.3 267.7,673.3 268.8,673.4 269.9,673.4 271,673.5 272.1,673.5 273.2,673.5 274.3,673.6 275.4,673.6 276.5,673.6 277.6,673.6 278.7,673.7 279.9,673.7 281,673.7 282.1,673.7 283.2,673.7 284.3,673.8 285.4,673.8 286.5,673.8 287.6,673.8 288.7,673.8 289.8,673.8 290.9,673.8 292,673.8 293.1,673.8 294.2,673.8 295.3,673.8 296.4,673.8 297.6,673.8 298.7,673.8 299.8,673.7 300.9,673.7 302,673.7 303.1,673.7 304.2,673.7 305.3,673.6 306.4,673.6 307.5,673.6 308.6,673.5 309.7,673.5 310.8,673.5 311.9,673.4 313,673.4 314.1,673.3 315.2,673.3 316.4,673.2 317.5,673.2 318.6,673.1 319.7,673.1 320.8,673 321.9,673 323,672.9 324.1,672.8 325.2,672.8 326.3,672.7 327.4,672.6 328.5,672.5 329.6,672.5 330.7,672.4 331.8,672.3 332.9,672.2 334.1,672.1 335.2,672.1 336.3,672 337.4,671.9 338.5,671.8 339.6,671.7 340.7,671.6 341.8,671.5 342.9,671.4 344,671.3 345.1,671.2 346.2,671.1 347.3,671 348.4,670.9 349.5,670.8 350.6,670.7 351.7,670.6 352.9,670.4 354,670.3 355.1,670.2 356.2,670.1 357.3,669.9 358.4,669.8 359.5,669.6 360.6,669.5 361.7,669.4 362.8,669.2 363.9,669 365,668.9 366.1,668.7 367.2,668.5 368.3,668.3 369.4,668 370.5,667.8 371.7,667.5 372.8,667.2 373.9,666.9 375,666.6 376.1,666.2 377.2,665.8 378.3,665.3 379.4,664.8 380.5,664.2 381.6,663.6 382.7,662.8 383.8,662 384.9,661.1 386,660 387.1,658.8 388.2,657.5 389.4,656 390.5,654.4 391.6,652.5 392.7,650.4 393.8,648.1 394.9,645.6 396,642.7 397.1,639.7 398.2,636.3 399.3,632.7 400.4,628.7 401.5,624.5 402.6,620 403.7,615.2 404.8,610.1 405.9,604.8 407,599.3 408.2,593.5 409.3,587.6 410.4,581.7 411.5,575.6 412.6,569.6 413.7,563.6 414.8,557.8 415.9,552.3 417,547.1 418.1,542.4 419.2,538.2 420.3,534.6 421.4,531.7 422.5,529.7 423.6,528.5 424.7,528.2 425.8,528.8 427,530.2 428.1,532.4 429.2,535.2 430.3,538.8 431.4,542.8 432.5,547.3 433.6,552.2 434.7,557.4 435.8,562.7 436.9,568.1 438,573.6 439.1,579.1 440.2,584.5 441.3,589.9 442.4,595 443.5,600 444.6,604.8 445.8,609.4 446.9,613.7 448,617.8 449.1,621.7 450.2,625.3 451.3,628.6 452.4,631.7 453.5,634.6 454.6,637.2 455.7,639.6 456.8,641.8 457.9,643.8 459,645.5 460.1,647.1 461.2,648.6 462.3,649.8 463.5,651 464.6,651.9 465.7,652.8 466.8,653.6 467.9,654.2 469,654.8 470.1,655.2 471.2,655.6 472.3,655.9 473.4,656.2 474.5,656.4 475.6,656.5 476.7,656.6 477.8,656.6 478.9,656.5 480,656.4 481.1,656.3 482.3,656.1 483.4,655.8 484.5,655.4 485.6,655 486.7,654.5 487.8,653.9 488.9,653.2 490,652.4 491.1,651.4 492.2,650.3 493.3,649 494.4,647.5 495.5,645.8 496.6,643.9 497.7,641.7 498.8,639.1 499.9,636.3 501.1,633 502.2,629.3 503.3,625.2 504.4,620.5 505.5,615.3 506.6,609.4 507.7,603 508.8,595.9 509.9,588 511,579.4 512.1,570 513.2,559.9 514.3,548.9 515.4,537.1 516.5,524.4 517.6,511 518.8,496.8 519.9,481.9 521,466.3 522.1,450 523.2,433.2 524.3,416 525.4,398.5 526.5,380.8 527.6,363 528.7,345.3 529.8,328 530.9,311.1 532,294.8 533.1,279.5 534.2,265.2 535.3,252.2 536.4,240.8 537.6,231.1 538.7,223.2 539.8,217.4 540.9,213.6 542,212.1 543.1,216.4 544.2,228.2 545.3,246.7 546.4,270.9 547.5,299.5 548.6,331.1 549.7,364.3 550.8,397.8 551.9,430.4 553,461 554.1,489.1 555.2,514.1 556.4,535.8 557.5,554.1 558.6,569.3 559.7,581.6 560.8,591.3 561.9,599 563,605 564.1,609.7 565.2,613.6 566.3,616.9 567.4,620 568.5,623 569.6,626.1 570.7,629.3 571.8,632.7 572.9,636.1 574.1,639.7 575.2,643.3 576.3,646.8 577.4,650.3 578.5,653.6 579.6,656.7 580.7,659.6 581.8,662.2 582.9,664.5 584,666.5 585.1,668.3 586.2,669.8 587.3,671 588.4,672.1 589.5,672.9 590.6,673.6 591.7,674.2 592.9,674.7 594,675 595.1,675.3 596.2,675.5 597.3,675.7 598.4,675.8 599.5,675.9 600.6,676 601.7,676.1 602.8,676.2 603.9,676.2 605,676.3 606.1,676.3 607.2,676.4 608.3,676.4 609.4,676.5 610.5,676.5 611.7,676.6 612.8,676.6 613.9,676.6 615,676.7 616.1,676.7 617.2,676.7 618.3,676.8 619.4,676.8 620.5,676.9 621.6,676.9 622.7,676.9 623.8,676.9 624.9,677 626,677 627.1,677 628.2,677.1 629.4,677.1 630.5,677.1 631.6,677.2 632.7,677.2 633.8,677.2 634.9,677.2 636,677.3 637.1,677.3 638.2,677.3 639.3,677.3 640.4,677.4 641.5,677.4 642.6,677.4 643.7,677.4 644.8,677.5 645.9,677.5 647,677.5 648.2,677.6 649.3,677.6 650.4,677.6 651.5,677.6 652.6,677.7 653.7,677.7 654.8,677.7 655.9,677.7 657,677.8 658.1,677.8 659.2,677.8 660.3,677.9 661.4,677.9 662.5,677.9 663.6,677.9 664.7,678 665.8,678 667,678 668.1,678 669.2,678.1 670.3,678.1 671.4,678.1 672.5,678.2 673.6,678.2 674.7,678.2 675.8,678.2 676.9,678.3 678,678.3 679.1,678.3 680.2,678.3 681.3,678.4 682.4,678.4 683.5,678.4 684.7,678.4 685.8,678.5 686.9,678.5 688,678.5 689.1,678.6 690.2,678.6 691.3,678.6 692.4,678.6 693.5,678.7 694.6,678.7 695.7,678.7 696.8,678.7 697.9,678.7 699,678.8 700.1,678.8 701.2,678.8 702.3,678.8 703.5,678.9 704.6,678.9 705.7,678.9 706.8,678.9 707.9,679 709,679 710.1,679 711.2,679 712.3,679 713.4,679 714.5,679.1 715.6,679.1 716.7,679.1 717.8,679.1 718.9,679.1 720,679.1 721.2,679.1 722.3,679.2 723.4,679.2 724.5,679.2 725.6,679.2 726.7,679.2 727.8,679.1 728.9,679.1 730,679.1 731.1,679.1 732.2,679.1 733.3,679 734.4,679 735.5,678.9 736.6,678.8 737.7,678.8 738.8,678.7 740,678.6 741.1,678.5 742.2,678.3 743.3,678.2 744.4,678.1 745.5,677.9 746.6,677.7 747.7,677.5 748.8,677.4 749.9,677.2 751,677 752.1,676.8 753.2,676.6 754.3,676.4 755.4,676.2 756.5,676 757.6,675.8 758.8,675.7 759.9,675.5 761,675.4 762.1,675.3 763.2,675.2 764.3,675.2 765.4,675.1 766.5,675.1 767.6,675.1 768.7,675.2 769.8,675.2 770.9,675.3 772,675.4 773.1,675.5 774.2,675.6 775.3,675.8 776.5,675.9 777.6,676.1 778.7,676.2 779.8,676.4 780.9,676.5 782,676.7 783.1,676.8 784.2,677 785.3,677.1 786.4,677.2 787.5,677.3 788.6,677.4 789.7,677.5 790.8,677.6 791.9,677.6 793,677.7 794.1,677.7 795.3,677.7 796.4,677.8 797.5,677.8 798.6,677.8 799.7,677.8 800.8,677.8 801.9,677.7 803,677.7 804.1,677.7 805.2,677.7 806.3,677.6 807.4,677.6 808.5,677.6 809.6,677.5 810.7,677.5 811.8,677.4 812.9,677.4 814.1,677.3 815.2,677.3 816.3,677.2 817.4,677.2 818.5,677.1 819.6,677.1 820.7,677 821.8,677 822.9,677 824,676.9 825.1,676.9 826.2,676.8 827.3,676.8 828.4,676.7 829.5,676.7 830.6,676.7 831.8,676.6 832.9,676.6 834,676.5 835.1,676.5 836.2,676.5 837.3,676.4 838.4,676.4 839.5,676.4 840.6,676.3 841.7,676.3 842.8,676.3 843.9,676.2 845,676.2 846.1,676.2 847.2,676.2 848.3,676.1 849.4,676.1 850.6,676.1 851.7,676.1 852.8,676 853.9,676 855,676 856.1,676 857.2,676 858.3,676 859.4,676 860.5,676 861.6,676 862.7,676 863.8,676 864.9,676 866,676 867.1,676 868.2,676 869.4,676 870.5,676 871.6,676 872.7,676 873.8,676.1 874.9,676.1 876,676.1 877.1,676.1 878.2,676.1 879.3,676.2 880.4,676.2 881.5,676.2 882.6,676.2 883.7,676.2 884.8,676.3 885.9,676.3 887,676.3 888.2,676.3 889.3,676.3 890.4,676.3 891.5,676.4 892.6,676.4 893.7,676.4 894.8,676.4 895.9,676.4 897,676.4 898.1,676.4 899.2,676.4 900.3,676.4 901.4,676.4 902.5,676.3 903.6,676.3 904.7,676.3 905.9,676.2 907,676.2 908.1,676.1 909.2,676.1 910.3,676 911.4,675.9 912.5,675.8 913.6,675.7 914.7,675.6 915.8,675.4 916.9,675.3 918,675.1 919.1,674.9 920.2,674.7 921.3,674.5 922.4,674.2 923.5,673.9 924.7,673.5 925.8,673.1 926.9,672.7 928,672.1 929.1,671.5 930.2,670.8 931.3,669.9 932.4,668.7 933.5,667.3 934.6,665.5 935.7,663 936.8,659.8 937.9,655.5 939,649.9 940.1,642.8 941.2,634 942.3,623.4 943.5,611 944.6,597.4 945.7,583.3 946.8,570 947.9,559.7 949,554.3 950.1,555.4 951.2,562.9 952.3,575.4 953.4,590.8 954.5,606.9 955.6,622.3 956.7,636 957.8,647.3 958.9,656.1 960,662.6 961.2,667.3 962.3,670.4 963.4,672.5 964.5,673.9 965.6,674.8 966.7,675.5 967.8,675.9 968.9,676.3 970,676.6 971.1,676.8 972.2,677 973.3,677.2 974.4,677.3 975.5,677.5 976.6,677.6 977.7,677.7 978.8,677.8 980,677.9 981.1,678 982.2,678.1 983.3,678.1 984.4,678.2 985.5,678.3 986.6,678.3 987.7,678.4 988.8,678.4 989.9,678.5 991,678.5 992.1,678.6 993.2,678.6 994.3,678.7 995.4,678.7 996.5,678.7 997.6,678.8 998.8,678.8 999.9,678.8 1001,678.9 1002.1,678.9 1003.2,678.9 1004.3,678.9 1005.4,679 1006.5,679 1007.6,679 1008.7,679 1009.8,679 1010.9,679.1 1012,679.1 1013.1,679.1 1014.2,679.1 1015.3,679.1 1016.5,679.2 1017.6,679.2 1018.7,679.2 1019.8,679.2 1020.9,679.2 1022,679.2 1023.1,679.3 1024.2,679.3 1025.3,679.3 1026.4,679.3 1027.5,679.3 1028.6,679.3 1029.7,679.3 1030.8,679.4 1031.9,679.4 1033,679.4 1034.1,679.4 1035.3,679.4 1036.4,679.4 1037.5,679.4 1038.6,679.4 1039.7,679.4 1040.8,679.5 1041.9,679.5 1043,679.5 1044.1,679.5 1045.2,679.5 1046.3,679.5 1047.4,679.5 1048.5,679.5 1049.6,679.5 1050.7,679.5 1051.8,679.5 1053,679.6 1054.1,679.6 1055.2,679.6 1056.3,679.6 1057.4,679.6 1058.5,679.6 1059.6,679.6 1060.7,679.6 1061.8,679.6 1062.9,679.6 1064,679.6 1065.1,679.6 1066.2,679.6 1067.3,679.6 1068.4,679.6 1069.5,679.6 1070.6,679.6 1071.8,679.6 1072.9,679.6 1074,679.6 1075.1,679.6 1076.2,679.6 1077.3,679.6 1078.4,679.6 1079.5,679.7 1080.6,679.7" fill="none" stroke="#000000" stroke-width="3.8" stroke-linejoin="round" stroke-linecap="butt"/>
<polyline points="195.8,677.5 196.9,677.6 198,677.7 199.1,677.8 200.2,677.9 201.3,678 202.4,678.1 203.5,678.1 204.6,678.2 205.8,678.3 206.9,678.4 208,678.5 209.1,678.6 210.2,678.7 211.3,678.8 212.4,678.9 213.5,679 214.6,679 215.7,679.1 216.8,679.2 217.9,679.3 219,679.4 220.1,679.5 221.2,679.5 222.3,679.6 223.5,679.7 224.6,679.8 225.7,679.8 226.8,679.9 227.9,680 229,680.1 230.1,680.1 231.2,680.2 232.3,680.3 233.4,680.3 234.5,680.4 235.6,680.5 236.7,680.5 237.8,680.6 238.9,680.7 240,680.7 241.1,680.8 242.3,680.8 243.4,680.9 244.5,681 245.6,681 246.7,681.1 247.8,681.1 248.9,681.2 250,681.2 251.1,681.3 252.2,681.3 253.3,681.4 254.4,681.4 255.5,681.5 256.6,681.5 257.7,681.5 258.8,681.6 259.9,681.6 261.1,681.7 262.2,681.7 263.3,681.7 264.4,681.8 265.5,681.8 266.6,681.8 267.7,681.9 268.8,681.9 269.9,681.9 271,681.9 272.1,682 273.2,682 274.3,682 275.4,682 276.5,682 277.6,682.1 278.7,682.1 279.9,682.1 281,682.1 282.1,682.1 283.2,682.1 284.3,682.1 285.4,682.1 286.5,682.1 287.6,682.1 288.7,682.1 289.8,682.1 290.9,682.1 292,682.1 293.1,682.1 294.2,682.1 295.3,682.1 296.4,682.1 297.6,682.1 298.7,682.1 299.8,682 300.9,682 302,682 303.1,682 304.2,681.9 305.3,681.9 306.4,681.9 307.5,681.9 308.6,681.8 309.7,681.8 310.8,681.8 311.9,681.7 313,681.7 314.1,681.6 315.2,681.6 316.4,681.5 317.5,681.5 318.6,681.4 319.7,681.4 320.8,681.3 321.9,681.3 323,681.2 324.1,681.1 325.2,681.1 326.3,681 327.4,680.9 328.5,680.9 329.6,680.8 330.7,680.7 331.8,680.6 332.9,680.5 334.1,680.5 335.2,680.4 336.3,680.3 337.4,680.2 338.5,680.1 339.6,680 340.7,679.9 341.8,679.8 342.9,679.7 344,679.6 345.1,679.5 346.2,679.4 347.3,679.3 348.4,679.2 349.5,679 350.6,678.9 351.7,678.8 352.9,678.6 354,678.5 355.1,678.4 356.2,678.2 357.3,678.1 358.4,677.9 359.5,677.7 360.6,677.6 361.7,677.4 362.8,677.2 363.9,677 365,676.8 366.1,676.5 367.2,676.3 368.3,676 369.4,675.7 370.5,675.3 371.7,675 372.8,674.6 373.9,674.1 375,673.6 376.1,673.1 377.2,672.4 378.3,671.7 379.4,670.9 380.5,670.1 381.6,669.1 382.7,667.9 383.8,666.7 384.9,665.2 386,663.7 387.1,661.9 388.2,659.9 389.4,657.7 390.5,655.3 391.6,652.7 392.7,649.8 393.8,646.6 394.9,643.2 396,639.5 397.1,635.5 398.2,631.2 399.3,626.7 400.4,622 401.5,617 402.6,611.8 403.7,606.4 404.8,600.9 405.9,595.3 407,589.7 408.2,584.1 409.3,578.5 410.4,573.1 411.5,568 412.6,563.2 413.7,558.8 414.8,554.9 415.9,551.6 417,549.1 418.1,547.2 419.2,546.2 420.3,546 421.4,546.6 422.5,548 423.6,550 424.7,552.8 425.8,556.1 427,559.9 428.1,564.1 429.2,568.7 430.3,573.5 431.4,578.5 432.5,583.5 433.6,588.7 434.7,593.8 435.8,598.8 436.9,603.7 438,608.5 439.1,613.1 440.2,617.6 441.3,621.8 442.4,625.8 443.5,629.6 444.6,633.1 445.8,636.5 446.9,639.6 448,642.4 449.1,645.1 450.2,647.5 451.3,649.7 452.4,651.7 453.5,653.5 454.6,655.2 455.7,656.6 456.8,657.9 457.9,659.1 459,660.2 460.1,661.1 461.2,661.9 462.3,662.6 463.5,663.2 464.6,663.7 465.7,664.1 466.8,664.5 467.9,664.8 469,665.1 470.1,665.3 471.2,665.4 472.3,665.5 473.4,665.6 474.5,665.6 475.6,665.5 476.7,665.4 477.8,665.3 478.9,665.2 480,664.9 481.1,664.7 482.3,664.4 483.4,664 484.5,663.5 485.6,663 486.7,662.4 487.8,661.7 488.9,660.9 490,659.9 491.1,658.8 492.2,657.6 493.3,656.2 494.4,654.5 495.5,652.7 496.6,650.5 497.7,648.1 498.8,645.4 499.9,642.3 501.1,638.8 502.2,634.9 503.3,630.5 504.4,625.6 505.5,620.1 506.6,614.1 507.7,607.4 508.8,600.1 509.9,592.2 511,583.5 512.1,574.1 513.2,564 514.3,553.1 515.4,541.5 516.5,529.2 517.6,516.3 518.8,502.7 519.9,488.5 521,473.9 522.1,458.7 523.2,443.3 524.3,427.6 525.4,411.7 526.5,395.9 527.6,380.3 528.7,365 529.8,350.1 530.9,336 532,322.7 533.1,310.5 534.2,299.5 535.3,290 536.4,282 537.6,275.7 538.7,271.3 539.8,268.7 540.9,269 542,275.7 543.1,288.8 544.2,307.5 545.3,330.7 546.4,357.3 547.5,385.9 548.6,415.4 549.7,444.6 550.8,472.5 551.9,498.5 553,521.9 554.1,542.4 555.2,560 556.4,574.7 557.5,586.6 558.6,596.2 559.7,603.7 560.8,609.5 561.9,614.2 563,617.9 564.1,621.1 565.2,623.9 566.3,626.7 567.4,629.6 568.5,632.5 569.6,635.7 570.7,639 571.8,642.5 572.9,646 574.1,649.5 575.2,653 576.3,656.4 577.4,659.6 578.5,662.5 579.6,665.3 580.7,667.7 581.8,669.8 582.9,671.7 584,673.3 585.1,674.7 586.2,675.8 587.3,676.8 588.4,677.5 589.5,678.1 590.6,678.6 591.7,679 592.9,679.3 594,679.5 595.1,679.7 596.2,679.8 597.3,679.9 598.4,680 599.5,680.1 600.6,680.1 601.7,680.2 602.8,680.2 603.9,680.2 605,680.3 606.1,680.3 607.2,680.3 608.3,680.3 609.4,680.4 610.5,680.4 611.7,680.4 612.8,680.4 613.9,680.4 615,680.4 616.1,680.5 617.2,680.5 618.3,680.5 619.4,680.5 620.5,680.5 621.6,680.5 622.7,680.5 623.8,680.5 624.9,680.6 626,680.6 627.1,680.6 628.2,680.6 629.4,680.6 630.5,680.6 631.6,680.6 632.7,680.6 633.8,680.6 634.9,680.7 636,680.7 637.1,680.7 638.2,680.7 639.3,680.7 640.4,680.7 641.5,680.7 642.6,680.7 643.7,680.7 644.8,680.7 645.9,680.7 647,680.8 648.2,680.8 649.3,680.8 650.4,680.8 651.5,680.8 652.6,680.8 653.7,680.8 654.8,680.8 655.9,680.8 657,680.8 658.1,680.8 659.2,680.8 660.3,680.8 661.4,680.8 662.5,680.8 663.6,680.9 664.7,680.9 665.8,680.9 667,680.9 668.1,680.9 669.2,680.9 670.3,680.9 671.4,680.9 672.5,680.9 673.6,680.9 674.7,680.9 675.8,680.9 676.9,680.9 678,680.9 679.1,680.9 680.2,680.9 681.3,680.9 682.4,680.9 683.5,680.9 684.7,680.9 685.8,680.9 686.9,681 688,681 689.1,681 690.2,681 691.3,681 692.4,681 693.5,681 694.6,681 695.7,681 696.8,681 697.9,681 699,681 700.1,681 701.2,681 702.3,681 703.5,681 704.6,681 705.7,681 706.8,681 707.9,681 709,681 710.1,681 711.2,681 712.3,681 713.4,681 714.5,681 715.6,681 716.7,681 717.8,681 718.9,681 720,681 721.2,681 722.3,681 723.4,681 724.5,681 725.6,681 726.7,681 727.8,681 728.9,681 730,681 731.1,681 732.2,681 733.3,680.9 734.4,680.9 735.5,680.9 736.6,680.9 737.7,680.8 738.8,680.8 740,680.7 741.1,680.7 742.2,680.6 743.3,680.6 744.4,680.5 745.5,680.5 746.6,680.4 747.7,680.3 748.8,680.3 749.9,680.2 751,680.1 752.1,680 753.2,679.9 754.3,679.8 755.4,679.8 756.5,679.7 757.6,679.6 758.8,679.5 759.9,679.4 761,679.4 762.1,679.3 763.2,679.2 764.3,679.2 765.4,679.2 766.5,679.1 767.6,679.1 768.7,679.1 769.8,679.1 770.9,679.1 772,679.1 773.1,679.1 774.2,679.1 775.3,679.1 776.5,679.1 777.6,679.1 778.7,679.2 779.8,679.2 780.9,679.2 782,679.2 783.1,679.2 784.2,679.2 785.3,679.2 786.4,679.2 787.5,679.2 788.6,679.2 789.7,679.2 790.8,679.2 791.9,679.2 793,679.1 794.1,679.1 795.3,679 796.4,679 797.5,678.9 798.6,678.9 799.7,678.8 800.8,678.8 801.9,678.7 803,678.7 804.1,678.6 805.2,678.5 806.3,678.4 807.4,678.4 808.5,678.3 809.6,678.2 810.7,678.2 811.8,678.1 812.9,678 814.1,677.9 815.2,677.9 816.3,677.8 817.4,677.7 818.5,677.7 819.6,677.6 820.7,677.5 821.8,677.5 822.9,677.4 824,677.3 825.1,677.3 826.2,677.2 827.3,677.1 828.4,677.1 829.5,677 830.6,676.9 831.8,676.9 832.9,676.8 834,676.8 835.1,676.7 836.2,676.7 837.3,676.6 838.4,676.6 839.5,676.5 840.6,676.5 841.7,676.4 842.8,676.4 843.9,676.3 845,676.3 846.1,676.2 847.2,676.2 848.3,676.2 849.4,676.1 850.6,676.1 851.7,676.1 852.8,676.1 853.9,676 855,676 856.1,676 857.2,676 858.3,676 859.4,676 860.5,676 861.6,676 862.7,676 863.8,676 864.9,676 866,676 867.1,676 868.2,676 869.4,676 870.5,676 871.6,676 872.7,676 873.8,676 874.9,676 876,676.1 877.1,676.1 878.2,676.1 879.3,676.1 880.4,676.1 881.5,676.1 882.6,676.2 883.7,676.2 884.8,676.2 885.9,676.2 887,676.2 888.2,676.2 889.3,676.3 890.4,676.3 891.5,676.3 892.6,676.3 893.7,676.3 894.8,676.3 895.9,676.3 897,676.3 898.1,676.3 899.2,676.3 900.3,676.3 901.4,676.2 902.5,676.2 903.6,676.2 904.7,676.1 905.9,676.1 907,676 908.1,676 909.2,675.9 910.3,675.8 911.4,675.7 912.5,675.6 913.6,675.5 914.7,675.4 915.8,675.2 916.9,675 918,674.8 919.1,674.6 920.2,674.4 921.3,674.1 922.4,673.8 923.5,673.4 924.7,673 925.8,672.6 926.9,672 928,671.4 929.1,670.6 930.2,669.7 931.3,668.5 932.4,667 933.5,665.1 934.6,662.5 935.7,659.1 936.8,654.6 937.9,648.8 939,641.4 940.1,632.2 941.2,621.2 942.3,608.5 943.5,594.5 944.6,580.1 945.7,566.8 946.8,556.7 947.9,551.8 949,553.6 950.1,561.9 951.2,575 952.3,590.8 953.4,607.3 954.5,622.9 955.6,636.6 956.7,647.9 957.8,656.6 958.9,663.1 960,667.6 961.2,670.7 962.3,672.8 963.4,674.2 964.5,675.1 965.6,675.7 966.7,676.2 967.8,676.5 968.9,676.8 970,677.1 971.1,677.3 972.2,677.4 973.3,677.6 974.4,677.8 975.5,677.9 976.6,678 977.7,678.1 978.8,678.2 980,678.3 981.1,678.4 982.2,678.5 983.3,678.6 984.4,678.6 985.5,678.7 986.6,678.8 987.7,678.8 988.8,678.9 989.9,678.9 991,679 992.1,679 993.2,679.1 994.3,679.1 995.4,679.1 996.5,679.2 997.6,679.2 998.8,679.3 999.9,679.3 1001,679.3 1002.1,679.4 1003.2,679.4 1004.3,679.4 1005.4,679.4 1006.5,679.5 1007.6,679.5 1008.7,679.5 1009.8,679.6 1010.9,679.6 1012,679.6 1013.1,679.6 1014.2,679.7 1015.3,679.7 1016.5,679.7 1017.6,679.7 1018.7,679.8 1019.8,679.8 1020.9,679.8 1022,679.8 1023.1,679.8 1024.2,679.9 1025.3,679.9 1026.4,679.9 1027.5,679.9 1028.6,679.9 1029.7,680 1030.8,680 1031.9,680 1033,680 1034.1,680 1035.3,680 1036.4,680.1 1037.5,680.1 1038.6,680.1 1039.7,680.1 1040.8,680.1 1041.9,680.1 1043,680.1 1044.1,680.2 1045.2,680.2 1046.3,680.2 1047.4,680.2 1048.5,680.2 1049.6,680.2 1050.7,680.2 1051.8,680.3 1053,680.3 1054.1,680.3 1055.2,680.3 1056.3,680.3 1057.4,680.3 1058.5,680.3 1059.6,680.3 1060.7,680.3 1061.8,680.3 1062.9,680.4 1064,680.4 1065.1,680.4 1066.2,680.4 1067.3,680.4 1068.4,680.4 1069.5,680.4 1070.6,680.4 1071.8,680.4 1072.9,680.4 1074,680.4 1075.1,680.4 1076.2,680.5 1077.3,680.5 1078.4,680.5 1079.5,680.5 1080.6,680.5" fill="none" stroke="#0000ff" stroke-width="3.8" stroke-linejoin="round" stroke-linecap="butt"/>
<rect x="195.8" y="61.5" width="884.8" height="656" fill="none" stroke="#000" stroke-width="5.5"/>
<path d="M195.8 717.5v14.5M306.4 717.5v14.5M417 717.5v14.5M527.6 717.5v14.5M638.2 717.5v14.5M748.8 717.5v14.5M859.4 717.5v14.5M970 717.5v14.5M1080.6 717.5v14.5M251.1 717.5v8.5M361.7 717.5v8.5M472.3 717.5v8.5M582.9 717.5v8.5M693.5 717.5v8.5M804.1 717.5v8.5M914.7 717.5v8.5M1025.3 717.5v8.5" stroke="#000" stroke-width="4.2" fill="none"/>
<text x="195.8" y="769.5" font-size="37.5" text-anchor="middle">-1.2</text>
<text x="306.4" y="769.5" font-size="37.5" text-anchor="middle">-1.0</text>
<text x="417" y="769.5" font-size="37.5" text-anchor="middle">-0.8</text>
<text x="527.6" y="769.5" font-size="37.5" text-anchor="middle">-0.6</text>
<text x="638.2" y="769.5" font-size="37.5" text-anchor="middle">-0.4</text>
<text x="748.8" y="769.5" font-size="37.5" text-anchor="middle">-0.2</text>
<text x="859.4" y="769.5" font-size="37.5" text-anchor="middle">0.0</text>
<text x="970" y="769.5" font-size="37.5" text-anchor="middle">0.2</text>
<text x="1080.6" y="769.5" font-size="37.5" text-anchor="middle">0.4</text>
<path d="M195.8 717.5h-14.5M195.8 553.5h-14.5M195.8 389.5h-14.5M195.8 225.5h-14.5M195.8 61.5h-14.5M195.8 635.5h-8.5M195.8 471.5h-8.5M195.8 307.5h-8.5M195.8 143.5h-8.5" stroke="#000" stroke-width="4.2" fill="none"/>
<text x="173.8" y="728" font-size="37.5" text-anchor="end">0</text>
<text x="173.8" y="564" font-size="37.5" text-anchor="end">10</text>
<text x="173.8" y="400" font-size="37.5" text-anchor="end">20</text>
<text x="173.8" y="236" font-size="37.5" text-anchor="end">30</text>
<text x="173.8" y="72" font-size="37.5" text-anchor="end">40</text>
<text transform="translate(112.2 396.3) rotate(-90) scale(0.98 1)" font-size="55" text-anchor="middle">Current/μA</text>
<text transform="translate(642.5 833) scale(0.99 1)" font-size="55.5" text-anchor="middle">potential/V</text>
<text x="435" y="496" font-size="38" text-anchor="middle">Cd(II)</text>
<text x="553" y="194" font-size="38" text-anchor="middle">Pb(II)</text>
<text x="953" y="520" font-size="38" text-anchor="middle">Hg(II)</text>
<text transform="translate(89 157) scale(0.97 1)" font-size="155" text-anchor="middle">a</text>
</g>
<g id="panel-b">
<polyline points="1296.6,701.1 1297.7,701.2 1298.8,701.2 1299.9,701.2 1301,701.2 1302.1,701.2 1303.3,701.2 1304.4,701.2 1305.5,701.3 1306.6,701.3 1307.7,701.3 1308.8,701.3 1309.9,701.3 1311,701.3 1312.1,701.4 1313.2,701.4 1314.3,701.4 1315.4,701.4 1316.6,701.4 1317.7,701.5 1318.8,701.5 1319.9,701.5 1321,701.5 1322.1,701.6 1323.2,701.6 1324.3,701.6 1325.4,701.6 1326.5,701.6 1327.6,701.7 1328.8,701.7 1329.9,701.7 1331,701.7 1332.1,701.8 1333.2,701.8 1334.3,701.8 1335.4,701.9 1336.5,701.9 1337.6,701.9 1338.7,701.9 1339.8,702 1340.9,702 1342.1,702 1343.2,702.1 1344.3,702.1 1345.4,702.1 1346.5,702.1 1347.6,702.2 1348.7,702.2 1349.8,702.2 1350.9,702.3 1352,702.3 1353.1,702.3 1354.2,702.4 1355.4,702.4 1356.5,702.4 1357.6,702.5 1358.7,702.5 1359.8,702.6 1360.9,702.6 1362,702.7 1363.1,702.7 1364.2,702.8 1365.3,702.8 1366.4,702.9 1367.6,702.9 1368.7,703 1369.8,703 1370.9,703.1 1372,703.2 1373.1,703.2 1374.2,703.3 1375.3,703.3 1376.4,703.4 1377.5,703.5 1378.6,703.5 1379.7,703.6 1380.9,703.6 1382,703.7 1383.1,703.7 1384.2,703.8 1385.3,703.9 1386.4,703.9 1387.5,704 1388.6,704 1389.7,704.1 1390.8,704.1 1391.9,704.2 1393.1,704.2 1394.2,704.3 1395.3,704.3 1396.4,704.3 1397.5,704.4 1398.6,704.4 1399.7,704.4 1400.8,704.5 1401.9,704.5 1403,704.5 1404.1,704.5 1405.2,704.6 1406.4,704.6 1407.5,704.6 1408.6,704.6 1409.7,704.6 1410.8,704.6 1411.9,704.6 1413,704.6 1414.1,704.6 1415.2,704.6 1416.3,704.6 1417.4,704.6 1418.5,704.7 1419.7,704.7 1420.8,704.7 1421.9,704.7 1423,704.7 1424.1,704.7 1425.2,704.7 1426.3,704.7 1427.4,704.7 1428.5,704.7 1429.6,704.7 1430.7,704.7 1431.9,704.7 1433,704.7 1434.1,704.7 1435.2,704.7 1436.3,704.7 1437.4,704.7 1438.5,704.7 1439.6,704.7 1440.7,704.7 1441.8,704.7 1442.9,704.7 1444,704.7 1445.2,704.7 1446.3,704.7 1447.4,704.6 1448.5,704.6 1449.6,704.6 1450.7,704.6 1451.8,704.6 1452.9,704.6 1454,704.6 1455.1,704.6 1456.2,704.6 1457.4,704.5 1458.5,704.5 1459.6,704.5 1460.7,704.5 1461.8,704.5 1462.9,704.5 1464,704.4 1465.1,704.4 1466.2,704.4 1467.3,704.3 1468.4,704.3 1469.5,704.3 1470.7,704.2 1471.8,704.2 1472.9,704.1 1474,704.1 1475.1,704 1476.2,703.9 1477.3,703.9 1478.4,703.8 1479.5,703.7 1480.6,703.5 1481.7,703.4 1482.8,703.3 1484,703.1 1485.1,702.9 1486.2,702.6 1487.3,702.3 1488.4,702 1489.5,701.6 1490.6,701.2 1491.7,700.6 1492.8,700 1493.9,699.2 1495,698.4 1496.2,697.4 1497.3,696.2 1498.4,694.8 1499.5,693.3 1500.6,691.5 1501.7,689.4 1502.8,687.1 1503.9,684.5 1505,681.5 1506.1,678.2 1507.2,674.6 1508.3,670.5 1509.5,666.1 1510.6,661.2 1511.7,655.9 1512.8,650.2 1513.9,644.1 1515,637.6 1516.1,630.7 1517.2,623.5 1518.3,616 1519.4,608.2 1520.5,600.2 1521.7,592 1522.8,583.8 1523.9,575.6 1525,567.4 1526.1,559.5 1527.2,551.8 1528.3,544.4 1529.4,537.5 1530.5,531.2 1531.6,525.5 1532.7,520.5 1533.8,516.3 1535,512.9 1536.1,510.5 1537.2,509 1538.3,508.4 1539.4,508.8 1540.5,510 1541.6,512.1 1542.7,514.9 1543.8,518.5 1544.9,522.8 1546,527.7 1547.1,533.3 1548.3,539.3 1549.4,545.8 1550.5,552.6 1551.6,559.8 1552.7,567.1 1553.8,574.6 1554.9,582.2 1556,589.7 1557.1,597.2 1558.2,604.6 1559.3,611.8 1560.5,618.8 1561.6,625.6 1562.7,632 1563.8,638.2 1564.9,644 1566,649.5 1567.1,654.6 1568.2,659.3 1569.3,663.7 1570.4,667.7 1571.5,671.4 1572.6,674.7 1573.8,677.7 1574.9,680.4 1576,682.8 1577.1,684.9 1578.2,686.8 1579.3,688.4 1580.4,689.8 1581.5,691.1 1582.6,692.1 1583.7,693 1584.8,693.8 1586,694.4 1587.1,694.9 1588.2,695.3 1589.3,695.6 1590.4,695.8 1591.5,695.9 1592.6,696 1593.7,696 1594.8,695.9 1595.9,695.8 1597,695.6 1598.1,695.3 1599.3,694.9 1600.4,694.4 1601.5,693.8 1602.6,693 1603.7,692.1 1604.8,690.9 1605.9,689.5 1607,687.8 1608.1,685.7 1609.2,683.2 1610.3,680.2 1611.4,676.6 1612.6,672.2 1613.7,667.2 1614.8,661.2 1615.9,654.2 1617,646.1 1618.1,636.8 1619.2,626.1 1620.3,614 1621.4,600.3 1622.5,585 1623.6,568.1 1624.8,549.5 1625.9,529.2 1627,507.3 1628.1,483.8 1629.2,458.9 1630.3,432.8 1631.4,405.6 1632.5,377.7 1633.6,349.3 1634.7,320.8 1635.8,292.6 1636.9,265 1638.1,238.6 1639.2,213.8 1640.3,191 1641.4,170.7 1642.5,153.3 1643.6,139.1 1644.7,128.5 1645.8,121.7 1646.9,118.9 1648,121.5 1649.1,130.9 1650.3,146.5 1651.4,167.9 1652.5,194.2 1653.6,224.5 1654.7,257.8 1655.8,293 1656.9,329.2 1658,365.4 1659.1,400.7 1660.2,434.5 1661.3,466.2 1662.4,495.3 1663.6,521.6 1664.7,545.1 1665.8,565.6 1666.9,583.3 1668,598.4 1669.1,611.1 1670.2,621.8 1671.3,630.7 1672.4,638 1673.5,644.1 1674.6,649.2 1675.7,653.6 1676.9,657.3 1678,660.6 1679.1,663.6 1680.2,666.3 1681.3,668.9 1682.4,671.4 1683.5,673.8 1684.6,676.1 1685.7,678.4 1686.8,680.5 1687.9,682.6 1689.1,684.6 1690.2,686.4 1691.3,688.2 1692.4,689.8 1693.5,691.3 1694.6,692.7 1695.7,693.9 1696.8,695 1697.9,695.9 1699,696.8 1700.1,697.5 1701.2,698.2 1702.4,698.7 1703.5,699.2 1704.6,699.6 1705.7,699.9 1706.8,700.2 1707.9,700.4 1709,700.6 1710.1,700.7 1711.2,700.9 1712.3,701 1713.4,701 1714.6,701.1 1715.7,701.2 1716.8,701.2 1717.9,701.2 1719,701.3 1720.1,701.3 1721.2,701.3 1722.3,701.3 1723.4,701.3 1724.5,701.3 1725.6,701.4 1726.7,701.4 1727.9,701.4 1729,701.4 1730.1,701.4 1731.2,701.4 1732.3,701.4 1733.4,701.4 1734.5,701.4 1735.6,701.4 1736.7,701.4 1737.8,701.4 1738.9,701.4 1740,701.5 1741.2,701.5 1742.3,701.5 1743.4,701.5 1744.5,701.5 1745.6,701.5 1746.7,701.5 1747.8,701.5 1748.9,701.5 1750,701.5 1751.1,701.5 1752.2,701.5 1753.4,701.5 1754.5,701.5 1755.6,701.5 1756.7,701.5 1757.8,701.5 1758.9,701.5 1760,701.5 1761.1,701.5 1762.2,701.5 1763.3,701.5 1764.4,701.5 1765.5,701.5 1766.7,701.5 1767.8,701.5 1768.9,701.6 1770,701.6 1771.1,701.6 1772.2,701.6 1773.3,701.6 1774.4,701.6 1775.5,701.6 1776.6,701.6 1777.7,701.6 1778.9,701.6 1780,701.6 1781.1,701.6 1782.2,701.6 1783.3,701.6 1784.4,701.6 1785.5,701.6 1786.6,701.6 1787.7,701.6 1788.8,701.6 1789.9,701.6 1791,701.6 1792.2,701.6 1793.3,701.6 1794.4,701.6 1795.5,701.6 1796.6,701.6 1797.7,701.6 1798.8,701.6 1799.9,701.6 1801,701.6 1802.1,701.6 1803.2,701.6 1804.4,701.6 1805.5,701.6 1806.6,701.6 1807.7,701.6 1808.8,701.6 1809.9,701.6 1811,701.6 1812.1,701.6 1813.2,701.6 1814.3,701.6 1815.4,701.6 1816.5,701.6 1817.7,701.6 1818.8,701.6 1819.9,701.6 1821,701.6 1822.1,701.6 1823.2,701.6 1824.3,701.6 1825.4,701.6 1826.5,701.6 1827.6,701.6 1828.7,701.6 1829.8,701.6 1831,701.6 1832.1,701.6 1833.2,701.6 1834.3,701.6 1835.4,701.6 1836.5,701.6 1837.6,701.6 1838.7,701.6 1839.8,701.6 1840.9,701.6 1842,701.6 1843.2,701.6 1844.3,701.6 1845.4,701.7 1846.5,701.7 1847.6,701.7 1848.7,701.7 1849.8,701.7 1850.9,701.7 1852,701.7 1853.1,701.7 1854.2,701.6 1855.3,701.6 1856.5,701.6 1857.6,701.6 1858.7,701.6 1859.8,701.6 1860.9,701.6 1862,701.6 1863.1,701.5 1864.2,701.5 1865.3,701.5 1866.4,701.5 1867.5,701.4 1868.7,701.4 1869.8,701.4 1870.9,701.3 1872,701.3 1873.1,701.3 1874.2,701.2 1875.3,701.2 1876.4,701.2 1877.5,701.1 1878.6,701.1 1879.7,701 1880.8,701 1882,701 1883.1,700.9 1884.2,700.9 1885.3,700.8 1886.4,700.8 1887.5,700.7 1888.6,700.7 1889.7,700.6 1890.8,700.6 1891.9,700.5 1893,700.5 1894.1,700.4 1895.3,700.4 1896.4,700.3 1897.5,700.3 1898.6,700.2 1899.7,700.2 1900.8,700.1 1901.9,700 1903,700 1904.1,699.9 1905.2,699.9 1906.3,699.8 1907.5,699.8 1908.6,699.7 1909.7,699.7 1910.8,699.6 1911.9,699.6 1913,699.5 1914.1,699.4 1915.2,699.4 1916.3,699.3 1917.4,699.3 1918.5,699.2 1919.6,699.2 1920.8,699.1 1921.9,699.1 1923,699 1924.1,699 1925.2,698.9 1926.3,698.9 1927.4,698.8 1928.5,698.8 1929.6,698.7 1930.7,698.7 1931.8,698.6 1933,698.6 1934.1,698.6 1935.2,698.5 1936.3,698.5 1937.4,698.4 1938.5,698.4 1939.6,698.4 1940.7,698.3 1941.8,698.3 1942.9,698.3 1944,698.2 1945.1,698.2 1946.3,698.2 1947.4,698.2 1948.5,698.1 1949.6,698.1 1950.7,698.1 1951.8,698.1 1952.9,698.1 1954,698 1955.1,698 1956.2,698 1957.3,698 1958.4,698 1959.6,698 1960.7,698 1961.8,698 1962.9,698 1964,698 1965.1,698 1966.2,698 1967.3,698 1968.4,698 1969.5,698 1970.6,698 1971.8,698 1972.9,698 1974,698 1975.1,698 1976.2,698 1977.3,698 1978.4,698 1979.5,698 1980.6,698 1981.7,698 1982.8,698 1983.9,698 1985.1,698 1986.2,698 1987.3,698 1988.4,698 1989.5,698 1990.6,698 1991.7,698 1992.8,698 1993.9,698 1995,698 1996.1,698 1997.3,698 1998.4,698 1999.5,698 2000.6,698 2001.7,698 2002.8,698 2003.9,698 2005,698 2006.1,697.9 2007.2,697.9 2008.3,697.9 2009.4,697.8 2010.6,697.8 2011.7,697.7 2012.8,697.6 2013.9,697.4 2015,697.3 2016.1,697 2017.2,696.8 2018.3,696.4 2019.4,696 2020.5,695.5 2021.6,694.9 2022.7,694.2 2023.9,693.4 2025,692.5 2026.1,691.4 2027.2,690.2 2028.3,688.7 2029.4,687 2030.5,684.7 2031.6,681.7 2032.7,677.2 2033.8,670.7 2034.9,661 2036.1,647.1 2037.2,628.1 2038.3,603.6 2039.4,574.3 2040.5,541.9 2041.6,509.7 2042.7,481.6 2043.8,461.9 2044.9,453.5 2046,457.9 2047.1,474.3 2048.2,500 2049.4,531.2 2050.5,563.7 2051.6,594 2052.7,619.9 2053.8,640.4 2054.9,655.7 2056,666.5 2057.1,673.8 2058.2,678.8 2059.3,682.3 2060.4,684.9 2061.6,686.9 2062.7,688.6 2063.8,690.1 2064.9,691.5 2066,692.7 2067.1,693.7 2068.2,694.7 2069.3,695.5 2070.4,696.3 2071.5,696.9 2072.6,697.5 2073.7,697.9 2074.9,698.3 2076,698.6 2077.1,698.9 2078.2,699.2 2079.3,699.4 2080.4,699.5 2081.5,699.6 2082.6,699.8 2083.7,699.9 2084.8,699.9 2085.9,700 2087,700.1 2088.2,700.1 2089.3,700.2 2090.4,700.2 2091.5,700.2 2092.6,700.3 2093.7,700.3 2094.8,700.3 2095.9,700.4 2097,700.4 2098.1,700.4 2099.2,700.5 2100.4,700.5 2101.5,700.5 2102.6,700.5 2103.7,700.5 2104.8,700.6 2105.9,700.6 2107,700.6 2108.1,700.6 2109.2,700.7 2110.3,700.7 2111.4,700.7 2112.5,700.7 2113.7,700.7 2114.8,700.8 2115.9,700.8 2117,700.8 2118.1,700.8 2119.2,700.8 2120.3,700.9 2121.4,700.9 2122.5,700.9 2123.6,700.9 2124.7,700.9 2125.9,701 2127,701 2128.1,701 2129.2,701 2130.3,701 2131.4,701.1 2132.5,701.1 2133.6,701.1 2134.7,701.1 2135.8,701.1 2136.9,701.1 2138,701.2 2139.2,701.2 2140.3,701.2 2141.4,701.2 2142.5,701.2 2143.6,701.3 2144.7,701.3 2145.8,701.3 2146.9,701.3 2148,701.3 2149.1,701.3 2150.2,701.4 2151.3,701.4 2152.5,701.4 2153.6,701.4 2154.7,701.4 2155.8,701.4 2156.9,701.4 2158,701.5 2159.1,701.5 2160.2,701.5 2161.3,701.5 2162.4,701.5 2163.5,701.5 2164.7,701.5 2165.8,701.5 2166.9,701.6 2168,701.6 2169.1,701.6 2170.2,701.6 2171.3,701.6 2172.4,701.6 2173.5,701.6 2174.6,701.6 2175.7,701.7 2176.8,701.7 2178,701.7 2179.1,701.7 2180.2,701.7 2181.3,701.7 2182.4,701.7 2183.5,701.7" fill="none" stroke="#ff0000" stroke-width="3.3" stroke-linejoin="round" stroke-linecap="butt"/>
<polyline points="1296.6,699.9 1297.7,699.9 1298.8,699.9 1299.9,699.9 1301,700 1302.1,700 1303.3,700 1304.4,700 1305.5,700 1306.6,700 1307.7,700.1 1308.8,700.1 1309.9,700.1 1311,700.1 1312.1,700.1 1313.2,700.1 1314.3,700.2 1315.4,700.2 1316.6,700.2 1317.7,700.2 1318.8,700.2 1319.9,700.3 1321,700.3 1322.1,700.3 1323.2,700.3 1324.3,700.4 1325.4,700.4 1326.5,700.4 1327.6,700.4 1328.8,700.5 1329.9,700.5 1331,700.5 1332.1,700.5 1333.2,700.6 1334.3,700.6 1335.4,700.6 1336.5,700.7 1337.6,700.7 1338.7,700.7 1339.8,700.7 1340.9,700.8 1342.1,700.8 1343.2,700.8 1344.3,700.9 1345.4,700.9 1346.5,700.9 1347.6,700.9 1348.7,701 1349.8,701 1350.9,701 1352,701.1 1353.1,701.1 1354.2,701.1 1355.4,701.2 1356.5,701.2 1357.6,701.2 1358.7,701.3 1359.8,701.3 1360.9,701.4 1362,701.4 1363.1,701.5 1364.2,701.5 1365.3,701.6 1366.4,701.6 1367.6,701.7 1368.7,701.8 1369.8,701.8 1370.9,701.9 1372,701.9 1373.1,702 1374.2,702 1375.3,702.1 1376.4,702.2 1377.5,702.2 1378.6,702.3 1379.7,702.3 1380.9,702.4 1382,702.5 1383.1,702.5 1384.2,702.6 1385.3,702.6 1386.4,702.7 1387.5,702.7 1388.6,702.8 1389.7,702.8 1390.8,702.9 1391.9,702.9 1393.1,703 1394.2,703 1395.3,703.1 1396.4,703.1 1397.5,703.1 1398.6,703.2 1399.7,703.2 1400.8,703.2 1401.9,703.3 1403,703.3 1404.1,703.3 1405.2,703.3 1406.4,703.3 1407.5,703.3 1408.6,703.4 1409.7,703.4 1410.8,703.4 1411.9,703.4 1413,703.4 1414.1,703.4 1415.2,703.4 1416.3,703.4 1417.4,703.4 1418.5,703.4 1419.7,703.4 1420.8,703.4 1421.9,703.4 1423,703.4 1424.1,703.4 1425.2,703.4 1426.3,703.4 1427.4,703.4 1428.5,703.5 1429.6,703.5 1430.7,703.5 1431.9,703.5 1433,703.5 1434.1,703.5 1435.2,703.5 1436.3,703.5 1437.4,703.5 1438.5,703.4 1439.6,703.4 1440.7,703.4 1441.8,703.4 1442.9,703.4 1444,703.4 1445.2,703.4 1446.3,703.4 1447.4,703.4 1448.5,703.4 1449.6,703.4 1450.7,703.4 1451.8,703.4 1452.9,703.4 1454,703.3 1455.1,703.3 1456.2,703.3 1457.4,703.3 1458.5,703.3 1459.6,703.3 1460.7,703.2 1461.8,703.2 1462.9,703.2 1464,703.2 1465.1,703.1 1466.2,703.1 1467.3,703.1 1468.4,703 1469.5,703 1470.7,703 1471.8,702.9 1472.9,702.8 1474,702.8 1475.1,702.7 1476.2,702.6 1477.3,702.5 1478.4,702.4 1479.5,702.3 1480.6,702.1 1481.7,702 1482.8,701.8 1484,701.5 1485.1,701.2 1486.2,700.9 1487.3,700.5 1488.4,700.1 1489.5,699.6 1490.6,699 1491.7,698.2 1492.8,697.4 1493.9,696.4 1495,695.3 1496.2,693.9 1497.3,692.4 1498.4,690.7 1499.5,688.7 1500.6,686.4 1501.7,683.9 1502.8,681 1503.9,677.8 1505,674.3 1506.1,670.3 1507.2,666 1508.3,661.3 1509.5,656.2 1510.6,650.6 1511.7,644.7 1512.8,638.4 1513.9,631.7 1515,624.7 1516.1,617.4 1517.2,609.8 1518.3,602 1519.4,594.1 1520.5,586.2 1521.7,578.2 1522.8,570.3 1523.9,562.6 1525,555.1 1526.1,548 1527.2,541.3 1528.3,535.1 1529.4,529.6 1530.5,524.7 1531.6,520.6 1532.7,517.4 1533.8,515 1535,513.5 1536.1,513 1537.2,513.4 1538.3,514.6 1539.4,516.6 1540.5,519.3 1541.6,522.8 1542.7,527 1543.8,531.8 1544.9,537.1 1546,543 1547.1,549.3 1548.3,555.9 1549.4,562.8 1550.5,570 1551.6,577.2 1552.7,584.6 1553.8,591.9 1554.9,599.2 1556,606.3 1557.1,613.3 1558.2,620.1 1559.3,626.7 1560.5,633 1561.6,638.9 1562.7,644.6 1563.8,649.9 1564.9,654.8 1566,659.4 1567.1,663.7 1568.2,667.6 1569.3,671.1 1570.4,674.3 1571.5,677.3 1572.6,679.9 1573.8,682.2 1574.9,684.3 1576,686.1 1577.1,687.7 1578.2,689.1 1579.3,690.3 1580.4,691.3 1581.5,692.1 1582.6,692.9 1583.7,693.5 1584.8,694 1586,694.4 1587.1,694.7 1588.2,694.9 1589.3,695 1590.4,695.1 1591.5,695.1 1592.6,695.1 1593.7,695 1594.8,694.8 1595.9,694.6 1597,694.2 1598.1,693.8 1599.3,693.3 1600.4,692.7 1601.5,691.9 1602.6,691 1603.7,689.8 1604.8,688.4 1605.9,686.7 1607,684.6 1608.1,682.1 1609.2,679.1 1610.3,675.5 1611.4,671.2 1612.6,666.1 1613.7,660.2 1614.8,653.2 1615.9,645.1 1617,635.8 1618.1,625.2 1619.2,613.1 1620.3,599.5 1621.4,584.3 1622.5,567.5 1623.6,549 1624.8,528.8 1625.9,506.9 1627,483.6 1628.1,458.8 1629.2,432.7 1630.3,405.7 1631.4,377.9 1632.5,349.6 1633.6,321.2 1634.7,293.1 1635.8,265.7 1636.9,239.4 1638.1,214.7 1639.2,192 1640.3,171.8 1641.4,154.4 1642.5,140.3 1643.6,129.8 1644.7,123 1645.8,120.2 1646.9,122.8 1648,132.1 1649.1,147.7 1650.3,168.9 1651.4,195.1 1652.5,225.3 1653.6,258.4 1654.7,293.5 1655.8,329.5 1656.9,365.5 1658,400.7 1659.1,434.3 1660.2,465.8 1661.3,494.8 1662.4,521.1 1663.6,544.4 1664.7,564.8 1665.8,582.4 1666.9,597.5 1668,610.2 1669.1,620.8 1670.2,629.6 1671.3,636.9 1672.4,643 1673.5,648.1 1674.6,652.4 1675.7,656.1 1676.9,659.4 1678,662.4 1679.1,665.1 1680.2,667.7 1681.3,670.2 1682.4,672.6 1683.5,674.9 1684.6,677.2 1685.7,679.3 1686.8,681.4 1687.9,683.4 1689.1,685.2 1690.2,687 1691.3,688.6 1692.4,690.1 1693.5,691.4 1694.6,692.7 1695.7,693.7 1696.8,694.7 1697.9,695.6 1699,696.3 1700.1,697 1701.2,697.5 1702.4,698 1703.5,698.4 1704.6,698.7 1705.7,699 1706.8,699.2 1707.9,699.4 1709,699.5 1710.1,699.6 1711.2,699.7 1712.3,699.8 1713.4,699.9 1714.6,699.9 1715.7,700 1716.8,700 1717.9,700 1719,700.1 1720.1,700.1 1721.2,700.1 1722.3,700.1 1723.4,700.1 1724.5,700.1 1725.6,700.1 1726.7,700.1 1727.9,700.2 1729,700.2 1730.1,700.2 1731.2,700.2 1732.3,700.2 1733.4,700.2 1734.5,700.2 1735.6,700.2 1736.7,700.2 1737.8,700.2 1738.9,700.2 1740,700.2 1741.2,700.2 1742.3,700.2 1743.4,700.2 1744.5,700.2 1745.6,700.3 1746.7,700.3 1747.8,700.3 1748.9,700.3 1750,700.3 1751.1,700.3 1752.2,700.3 1753.4,700.3 1754.5,700.3 1755.6,700.3 1756.7,700.3 1757.8,700.3 1758.9,700.3 1760,700.3 1761.1,700.3 1762.2,700.3 1763.3,700.3 1764.4,700.3 1765.5,700.3 1766.7,700.3 1767.8,700.3 1768.9,700.3 1770,700.3 1771.1,700.3 1772.2,700.3 1773.3,700.3 1774.4,700.3 1775.5,700.3 1776.6,700.3 1777.7,700.3 1778.9,700.3 1780,700.3 1781.1,700.3 1782.2,700.3 1783.3,700.4 1784.4,700.4 1785.5,700.4 1786.6,700.4 1787.7,700.4 1788.8,700.4 1789.9,700.4 1791,700.4 1792.2,700.4 1793.3,700.4 1794.4,700.4 1795.5,700.4 1796.6,700.4 1797.7,700.4 1798.8,700.4 1799.9,700.4 1801,700.4 1802.1,700.4 1803.2,700.4 1804.4,700.4 1805.5,700.4 1806.6,700.4 1807.7,700.4 1808.8,700.4 1809.9,700.4 1811,700.4 1812.1,700.4 1813.2,700.4 1814.3,700.4 1815.4,700.4 1816.5,700.4 1817.7,700.4 1818.8,700.4 1819.9,700.4 1821,700.4 1822.1,700.4 1823.2,700.4 1824.3,700.4 1825.4,700.4 1826.5,700.4 1827.6,700.4 1828.7,700.4 1829.8,700.4 1831,700.4 1832.1,700.4 1833.2,700.4 1834.3,700.4 1835.4,700.4 1836.5,700.4 1837.6,700.4 1838.7,700.4 1839.8,700.4 1840.9,700.4 1842,700.4 1843.2,700.4 1844.3,700.4 1845.4,700.4 1846.5,700.4 1847.6,700.4 1848.7,700.4 1849.8,700.4 1850.9,700.4 1852,700.4 1853.1,700.4 1854.2,700.4 1855.3,700.4 1856.5,700.4 1857.6,700.4 1858.7,700.4 1859.8,700.4 1860.9,700.3 1862,700.3 1863.1,700.3 1864.2,700.3 1865.3,700.3 1866.4,700.2 1867.5,700.2 1868.7,700.2 1869.8,700.1 1870.9,700.1 1872,700.1 1873.1,700 1874.2,700 1875.3,700 1876.4,699.9 1877.5,699.9 1878.6,699.9 1879.7,699.8 1880.8,699.8 1882,699.7 1883.1,699.7 1884.2,699.6 1885.3,699.6 1886.4,699.5 1887.5,699.5 1888.6,699.4 1889.7,699.4 1890.8,699.3 1891.9,699.3 1893,699.2 1894.1,699.2 1895.3,699.1 1896.4,699.1 1897.5,699 1898.6,699 1899.7,698.9 1900.8,698.9 1901.9,698.8 1903,698.8 1904.1,698.7 1905.2,698.7 1906.3,698.6 1907.5,698.5 1908.6,698.5 1909.7,698.4 1910.8,698.4 1911.9,698.3 1913,698.3 1914.1,698.2 1915.2,698.2 1916.3,698.1 1917.4,698.1 1918.5,698 1919.6,697.9 1920.8,697.9 1921.9,697.8 1923,697.8 1924.1,697.7 1925.2,697.7 1926.3,697.6 1927.4,697.6 1928.5,697.6 1929.6,697.5 1930.7,697.5 1931.8,697.4 1933,697.4 1934.1,697.3 1935.2,697.3 1936.3,697.2 1937.4,697.2 1938.5,697.2 1939.6,697.1 1940.7,697.1 1941.8,697.1 1942.9,697 1944,697 1945.1,697 1946.3,697 1947.4,696.9 1948.5,696.9 1949.6,696.9 1950.7,696.9 1951.8,696.8 1952.9,696.8 1954,696.8 1955.1,696.8 1956.2,696.8 1957.3,696.8 1958.4,696.8 1959.6,696.8 1960.7,696.8 1961.8,696.8 1962.9,696.8 1964,696.8 1965.1,696.8 1966.2,696.8 1967.3,696.8 1968.4,696.8 1969.5,696.8 1970.6,696.8 1971.8,696.8 1972.9,696.8 1974,696.8 1975.1,696.8 1976.2,696.8 1977.3,696.8 1978.4,696.8 1979.5,696.8 1980.6,696.8 1981.7,696.8 1982.8,696.8 1983.9,696.8 1985.1,696.8 1986.2,696.8 1987.3,696.8 1988.4,696.8 1989.5,696.8 1990.6,696.8 1991.7,696.8 1992.8,696.8 1993.9,696.8 1995,696.8 1996.1,696.8 1997.3,696.8 1998.4,696.8 1999.5,696.8 2000.6,696.8 2001.7,696.8 2002.8,696.7 2003.9,696.7 2005,696.7 2006.1,696.7 2007.2,696.7 2008.3,696.6 2009.4,696.6 2010.6,696.5 2011.7,696.5 2012.8,696.4 2013.9,696.2 2015,696.1 2016.1,695.9 2017.2,695.6 2018.3,695.3 2019.4,694.9 2020.5,694.4 2021.6,693.8 2022.7,693.2 2023.9,692.4 2025,691.5 2026.1,690.5 2027.2,689.3 2028.3,687.9 2029.4,686.3 2030.5,684.2 2031.6,681.5 2032.7,677.6 2033.8,672 2034.9,663.7 2036.1,651.8 2037.2,635.3 2038.3,613.7 2039.4,587.4 2040.5,557.7 2041.6,527.4 2042.7,500 2043.8,479.4 2044.9,468.7 2046,469.8 2047.1,482.4 2048.2,504.5 2049.4,532.5 2050.5,562.8 2051.6,591.7 2052.7,617 2053.8,637.5 2054.9,652.9 2056,663.9 2057.1,671.6 2058.2,676.8 2059.3,680.5 2060.4,683.2 2061.6,685.3 2062.7,687 2063.8,688.6 2064.9,689.9 2066,691.2 2067.1,692.3 2068.2,693.2 2069.3,694.1 2070.4,694.9 2071.5,695.5 2072.6,696.1 2073.7,696.6 2074.9,697 2076,697.3 2077.1,697.6 2078.2,697.9 2079.3,698.1 2080.4,698.3 2081.5,698.4 2082.6,698.5 2083.7,698.6 2084.8,698.7 2085.9,698.8 2087,698.8 2088.2,698.9 2089.3,698.9 2090.4,699 2091.5,699 2092.6,699 2093.7,699.1 2094.8,699.1 2095.9,699.1 2097,699.2 2098.1,699.2 2099.2,699.2 2100.4,699.2 2101.5,699.3 2102.6,699.3 2103.7,699.3 2104.8,699.3 2105.9,699.4 2107,699.4 2108.1,699.4 2109.2,699.4 2110.3,699.4 2111.4,699.5 2112.5,699.5 2113.7,699.5 2114.8,699.5 2115.9,699.5 2117,699.6 2118.1,699.6 2119.2,699.6 2120.3,699.6 2121.4,699.6 2122.5,699.7 2123.6,699.7 2124.7,699.7 2125.9,699.7 2127,699.7 2128.1,699.8 2129.2,699.8 2130.3,699.8 2131.4,699.8 2132.5,699.8 2133.6,699.9 2134.7,699.9 2135.8,699.9 2136.9,699.9 2138,699.9 2139.2,699.9 2140.3,700 2141.4,700 2142.5,700 2143.6,700 2144.7,700 2145.8,700.1 2146.9,700.1 2148,700.1 2149.1,700.1 2150.2,700.1 2151.3,700.1 2152.5,700.1 2153.6,700.2 2154.7,700.2 2155.8,700.2 2156.9,700.2 2158,700.2 2159.1,700.2 2160.2,700.2 2161.3,700.3 2162.4,700.3 2163.5,700.3 2164.7,700.3 2165.8,700.3 2166.9,700.3 2168,700.3 2169.1,700.4 2170.2,700.4 2171.3,700.4 2172.4,700.4 2173.5,700.4 2174.6,700.4 2175.7,700.4 2176.8,700.4 2178,700.4 2179.1,700.4 2180.2,700.5 2181.3,700.5 2182.4,700.5 2183.5,700.5" fill="none" stroke="#00ff00" stroke-width="3.3" stroke-linejoin="round" stroke-linecap="butt"/>
<polyline points="1296.6,699.7 1297.7,699.7 1298.8,699.7 1299.9,699.7 1301,699.7 1302.1,699.7 1303.3,699.7 1304.4,699.8 1305.5,699.8 1306.6,699.8 1307.7,699.8 1308.8,699.8 1309.9,699.8 1311,699.9 1312.1,699.9 1313.2,699.9 1314.3,699.9 1315.4,699.9 1316.6,700 1317.7,700 1318.8,700 1319.9,700 1321,700.1 1322.1,700.1 1323.2,700.1 1324.3,700.1 1325.4,700.1 1326.5,700.2 1327.6,700.2 1328.8,700.2 1329.9,700.2 1331,700.3 1332.1,700.3 1333.2,700.3 1334.3,700.4 1335.4,700.4 1336.5,700.4 1337.6,700.4 1338.7,700.5 1339.8,700.5 1340.9,700.5 1342.1,700.5 1343.2,700.6 1344.3,700.6 1345.4,700.6 1346.5,700.7 1347.6,700.7 1348.7,700.7 1349.8,700.8 1350.9,700.8 1352,700.8 1353.1,700.8 1354.2,700.9 1355.4,700.9 1356.5,701 1357.6,701 1358.7,701 1359.8,701.1 1360.9,701.1 1362,701.2 1363.1,701.2 1364.2,701.3 1365.3,701.3 1366.4,701.4 1367.6,701.5 1368.7,701.5 1369.8,701.6 1370.9,701.6 1372,701.7 1373.1,701.7 1374.2,701.8 1375.3,701.9 1376.4,701.9 1377.5,702 1378.6,702 1379.7,702.1 1380.9,702.2 1382,702.2 1383.1,702.3 1384.2,702.3 1385.3,702.4 1386.4,702.4 1387.5,702.5 1388.6,702.5 1389.7,702.6 1390.8,702.6 1391.9,702.7 1393.1,702.7 1394.2,702.8 1395.3,702.8 1396.4,702.9 1397.5,702.9 1398.6,702.9 1399.7,703 1400.8,703 1401.9,703 1403,703 1404.1,703.1 1405.2,703.1 1406.4,703.1 1407.5,703.1 1408.6,703.1 1409.7,703.1 1410.8,703.1 1411.9,703.1 1413,703.2 1414.1,703.2 1415.2,703.2 1416.3,703.2 1417.4,703.2 1418.5,703.2 1419.7,703.2 1420.8,703.2 1421.9,703.2 1423,703.2 1424.1,703.2 1425.2,703.2 1426.3,703.2 1427.4,703.2 1428.5,703.2 1429.6,703.2 1430.7,703.2 1431.9,703.2 1433,703.2 1434.1,703.2 1435.2,703.2 1436.3,703.2 1437.4,703.2 1438.5,703.2 1439.6,703.2 1440.7,703.2 1441.8,703.2 1442.9,703.2 1444,703.2 1445.2,703.2 1446.3,703.2 1447.4,703.2 1448.5,703.2 1449.6,703.2 1450.7,703.2 1451.8,703.1 1452.9,703.1 1454,703.1 1455.1,703.1 1456.2,703.1 1457.4,703.1 1458.5,703.1 1459.6,703.1 1460.7,703 1461.8,703 1462.9,703 1464,703 1465.1,702.9 1466.2,702.9 1467.3,702.9 1468.4,702.9 1469.5,702.8 1470.7,702.8 1471.8,702.7 1472.9,702.7 1474,702.6 1475.1,702.5 1476.2,702.5 1477.3,702.4 1478.4,702.3 1479.5,702.2 1480.6,702.1 1481.7,701.9 1482.8,701.8 1484,701.6 1485.1,701.4 1486.2,701.1 1487.3,700.8 1488.4,700.5 1489.5,700.1 1490.6,699.6 1491.7,699.1 1492.8,698.4 1493.9,697.6 1495,696.7 1496.2,695.7 1497.3,694.5 1498.4,693.1 1499.5,691.5 1500.6,689.7 1501.7,687.6 1502.8,685.3 1503.9,682.6 1505,679.7 1506.1,676.4 1507.2,672.7 1508.3,668.7 1509.5,664.3 1510.6,659.4 1511.7,654.2 1512.8,648.6 1513.9,642.6 1515,636.3 1516.1,629.6 1517.2,622.6 1518.3,615.3 1519.4,607.8 1520.5,600.1 1521.7,592.3 1522.8,584.5 1523.9,576.7 1525,569.1 1526.1,561.6 1527.2,554.5 1528.3,547.7 1529.4,541.4 1530.5,535.7 1531.6,530.6 1532.7,526.2 1533.8,522.6 1535,519.8 1536.1,518 1537.2,517 1538.3,516.9 1539.4,517.7 1540.5,519.2 1541.6,521.6 1542.7,524.6 1543.8,528.4 1544.9,532.7 1546,537.7 1547.1,543.2 1548.3,549.2 1549.4,555.5 1550.5,562.1 1551.6,569 1552.7,576.1 1553.8,583.2 1554.9,590.4 1556,597.5 1557.1,604.6 1558.2,611.5 1559.3,618.3 1560.5,624.8 1561.6,631.1 1562.7,637.1 1563.8,642.8 1564.9,648.1 1566,653.1 1567.1,657.8 1568.2,662.1 1569.3,666.1 1570.4,669.7 1571.5,673 1572.6,676 1573.8,678.7 1574.9,681.1 1576,683.3 1577.1,685.2 1578.2,686.8 1579.3,688.3 1580.4,689.5 1581.5,690.6 1582.6,691.5 1583.7,692.3 1584.8,693 1586,693.5 1587.1,693.9 1588.2,694.2 1589.3,694.5 1590.4,694.6 1591.5,694.7 1592.6,694.8 1593.7,694.7 1594.8,694.6 1595.9,694.5 1597,694.3 1598.1,693.9 1599.3,693.5 1600.4,693 1601.5,692.4 1602.6,691.6 1603.7,690.7 1604.8,689.5 1605.9,688.1 1607,686.4 1608.1,684.3 1609.2,681.8 1610.3,678.8 1611.4,675.2 1612.6,670.9 1613.7,665.8 1614.8,659.8 1615.9,652.8 1617,644.7 1618.1,635.4 1619.2,624.7 1620.3,612.6 1621.4,599 1622.5,583.7 1623.6,566.8 1624.8,548.3 1625.9,528 1627,506.1 1628.1,482.7 1629.2,457.8 1630.3,431.7 1631.4,404.6 1632.5,376.7 1633.6,348.3 1634.7,319.9 1635.8,291.7 1636.9,264.2 1638.1,237.8 1639.2,213 1640.3,190.3 1641.4,170 1642.5,152.6 1643.6,138.4 1644.7,127.9 1645.8,121.1 1646.9,118.3 1648,120.9 1649.1,130.2 1650.3,145.8 1651.4,167.2 1652.5,193.5 1653.6,223.7 1654.7,256.9 1655.8,292.1 1656.9,328.2 1658,364.4 1659.1,399.7 1660.2,433.4 1661.3,465 1662.4,494.1 1663.6,520.4 1664.7,543.8 1665.8,564.3 1666.9,581.9 1668,597 1669.1,609.7 1670.2,620.4 1671.3,629.2 1672.4,636.6 1673.5,642.7 1674.6,647.8 1675.7,652.1 1676.9,655.8 1678,659.1 1679.1,662.1 1680.2,664.9 1681.3,667.5 1682.4,670 1683.5,672.4 1684.6,674.7 1685.7,676.9 1686.8,679.1 1687.9,681.1 1689.1,683.1 1690.2,685 1691.3,686.7 1692.4,688.3 1693.5,689.8 1694.6,691.2 1695.7,692.4 1696.8,693.5 1697.9,694.5 1699,695.3 1700.1,696.1 1701.2,696.7 1702.4,697.3 1703.5,697.7 1704.6,698.1 1705.7,698.4 1706.8,698.7 1707.9,698.9 1709,699.1 1710.1,699.3 1711.2,699.4 1712.3,699.5 1713.4,699.6 1714.6,699.6 1715.7,699.7 1716.8,699.7 1717.9,699.8 1719,699.8 1720.1,699.8 1721.2,699.8 1722.3,699.8 1723.4,699.9 1724.5,699.9 1725.6,699.9 1726.7,699.9 1727.9,699.9 1729,699.9 1730.1,699.9 1731.2,699.9 1732.3,699.9 1733.4,699.9 1734.5,699.9 1735.6,700 1736.7,700 1737.8,700 1738.9,700 1740,700 1741.2,700 1742.3,700 1743.4,700 1744.5,700 1745.6,700 1746.7,700 1747.8,700 1748.9,700 1750,700 1751.1,700 1752.2,700 1753.4,700 1754.5,700 1755.6,700 1756.7,700 1757.8,700 1758.9,700 1760,700.1 1761.1,700.1 1762.2,700.1 1763.3,700.1 1764.4,700.1 1765.5,700.1 1766.7,700.1 1767.8,700.1 1768.9,700.1 1770,700.1 1771.1,700.1 1772.2,700.1 1773.3,700.1 1774.4,700.1 1775.5,700.1 1776.6,700.1 1777.7,700.1 1778.9,700.1 1780,700.1 1781.1,700.1 1782.2,700.1 1783.3,700.1 1784.4,700.1 1785.5,700.1 1786.6,700.1 1787.7,700.1 1788.8,700.1 1789.9,700.1 1791,700.1 1792.2,700.1 1793.3,700.1 1794.4,700.1 1795.5,700.1 1796.6,700.1 1797.7,700.1 1798.8,700.1 1799.9,700.1 1801,700.1 1802.1,700.1 1803.2,700.1 1804.4,700.1 1805.5,700.1 1806.6,700.1 1807.7,700.1 1808.8,700.1 1809.9,700.1 1811,700.1 1812.1,700.1 1813.2,700.1 1814.3,700.1 1815.4,700.1 1816.5,700.1 1817.7,700.1 1818.8,700.2 1819.9,700.2 1821,700.2 1822.1,700.2 1823.2,700.2 1824.3,700.2 1825.4,700.2 1826.5,700.2 1827.6,700.2 1828.7,700.2 1829.8,700.2 1831,700.2 1832.1,700.2 1833.2,700.2 1834.3,700.2 1835.4,700.2 1836.5,700.2 1837.6,700.2 1838.7,700.2 1839.8,700.2 1840.9,700.2 1842,700.2 1843.2,700.2 1844.3,700.2 1845.4,700.2 1846.5,700.2 1847.6,700.2 1848.7,700.2 1849.8,700.2 1850.9,700.2 1852,700.2 1853.1,700.2 1854.2,700.2 1855.3,700.2 1856.5,700.2 1857.6,700.1 1858.7,700.1 1859.8,700.1 1860.9,700.1 1862,700.1 1863.1,700.1 1864.2,700 1865.3,700 1866.4,700 1867.5,700 1868.7,699.9 1869.8,699.9 1870.9,699.9 1872,699.8 1873.1,699.8 1874.2,699.8 1875.3,699.7 1876.4,699.7 1877.5,699.7 1878.6,699.6 1879.7,699.6 1880.8,699.5 1882,699.5 1883.1,699.4 1884.2,699.4 1885.3,699.3 1886.4,699.3 1887.5,699.2 1888.6,699.2 1889.7,699.2 1890.8,699.1 1891.9,699 1893,699 1894.1,698.9 1895.3,698.9 1896.4,698.8 1897.5,698.8 1898.6,698.7 1899.7,698.7 1900.8,698.6 1901.9,698.6 1903,698.5 1904.1,698.5 1905.2,698.4 1906.3,698.3 1907.5,698.3 1908.6,698.2 1909.7,698.2 1910.8,698.1 1911.9,698.1 1913,698 1914.1,698 1915.2,697.9 1916.3,697.9 1917.4,697.8 1918.5,697.8 1919.6,697.7 1920.8,697.6 1921.9,697.6 1923,697.5 1924.1,697.5 1925.2,697.4 1926.3,697.4 1927.4,697.4 1928.5,697.3 1929.6,697.3 1930.7,697.2 1931.8,697.2 1933,697.1 1934.1,697.1 1935.2,697 1936.3,697 1937.4,697 1938.5,696.9 1939.6,696.9 1940.7,696.9 1941.8,696.8 1942.9,696.8 1944,696.8 1945.1,696.7 1946.3,696.7 1947.4,696.7 1948.5,696.7 1949.6,696.6 1950.7,696.6 1951.8,696.6 1952.9,696.6 1954,696.6 1955.1,696.5 1956.2,696.5 1957.3,696.5 1958.4,696.5 1959.6,696.5 1960.7,696.5 1961.8,696.5 1962.9,696.5 1964,696.5 1965.1,696.5 1966.2,696.5 1967.3,696.5 1968.4,696.5 1969.5,696.5 1970.6,696.5 1971.8,696.5 1972.9,696.5 1974,696.5 1975.1,696.5 1976.2,696.5 1977.3,696.5 1978.4,696.5 1979.5,696.5 1980.6,696.5 1981.7,696.5 1982.8,696.5 1983.9,696.5 1985.1,696.5 1986.2,696.5 1987.3,696.5 1988.4,696.5 1989.5,696.5 1990.6,696.5 1991.7,696.5 1992.8,696.5 1993.9,696.5 1995,696.5 1996.1,696.5 1997.3,696.5 1998.4,696.5 1999.5,696.5 2000.6,696.5 2001.7,696.5 2002.8,696.5 2003.9,696.5 2005,696.5 2006.1,696.5 2007.2,696.4 2008.3,696.4 2009.4,696.3 2010.6,696.3 2011.7,696.2 2012.8,696.1 2013.9,695.9 2015,695.8 2016.1,695.5 2017.2,695.3 2018.3,694.9 2019.4,694.5 2020.5,694 2021.6,693.4 2022.7,692.7 2023.9,691.9 2025,691 2026.1,689.9 2027.2,688.7 2028.3,687.2 2029.4,685.5 2030.5,683.2 2031.6,680 2032.7,675.5 2033.8,668.7 2034.9,658.6 2036.1,644 2037.2,624.1 2038.3,598.4 2039.4,567.5 2040.5,533.5 2041.6,499.6 2042.7,470.1 2043.8,449.3 2044.9,440.5 2046,445.1 2047.1,462.4 2048.2,489.4 2049.4,522.2 2050.5,556.4 2051.6,588.3 2052.7,615.5 2053.8,637.1 2054.9,653.1 2056,664.3 2057.1,672 2058.2,677.2 2059.3,680.8 2060.4,683.4 2061.6,685.4 2062.7,687.2 2063.8,688.7 2064.9,690 2066,691.2 2067.1,692.3 2068.2,693.2 2069.3,694.1 2070.4,694.8 2071.5,695.4 2072.6,696 2073.7,696.4 2074.9,696.8 2076,697.2 2077.1,697.4 2078.2,697.7 2079.3,697.9 2080.4,698 2081.5,698.2 2082.6,698.3 2083.7,698.4 2084.8,698.5 2085.9,698.5 2087,698.6 2088.2,698.6 2089.3,698.7 2090.4,698.7 2091.5,698.8 2092.6,698.8 2093.7,698.8 2094.8,698.9 2095.9,698.9 2097,698.9 2098.1,698.9 2099.2,699 2100.4,699 2101.5,699 2102.6,699 2103.7,699.1 2104.8,699.1 2105.9,699.1 2107,699.1 2108.1,699.1 2109.2,699.2 2110.3,699.2 2111.4,699.2 2112.5,699.2 2113.7,699.3 2114.8,699.3 2115.9,699.3 2117,699.3 2118.1,699.3 2119.2,699.4 2120.3,699.4 2121.4,699.4 2122.5,699.4 2123.6,699.4 2124.7,699.5 2125.9,699.5 2127,699.5 2128.1,699.5 2129.2,699.5 2130.3,699.6 2131.4,699.6 2132.5,699.6 2133.6,699.6 2134.7,699.6 2135.8,699.6 2136.9,699.7 2138,699.7 2139.2,699.7 2140.3,699.7 2141.4,699.7 2142.5,699.8 2143.6,699.8 2144.7,699.8 2145.8,699.8 2146.9,699.8 2148,699.8 2149.1,699.9 2150.2,699.9 2151.3,699.9 2152.5,699.9 2153.6,699.9 2154.7,699.9 2155.8,699.9 2156.9,700 2158,700 2159.1,700 2160.2,700 2161.3,700 2162.4,700 2163.5,700 2164.7,700.1 2165.8,700.1 2166.9,700.1 2168,700.1 2169.1,700.1 2170.2,700.1 2171.3,700.1 2172.4,700.1 2173.5,700.2 2174.6,700.2 2175.7,700.2 2176.8,700.2 2178,700.2 2179.1,700.2 2180.2,700.2 2181.3,700.2 2182.4,700.2 2183.5,700.2" fill="none" stroke="#0000ff" stroke-width="3.3" stroke-linejoin="round" stroke-linecap="butt"/>
<polyline points="1296.6,700.3 1297.7,700.3 1298.8,700.4 1299.9,700.4 1301,700.4 1302.1,700.4 1303.3,700.4 1304.4,700.4 1305.5,700.4 1306.6,700.5 1307.7,700.5 1308.8,700.5 1309.9,700.5 1311,700.5 1312.1,700.5 1313.2,700.6 1314.3,700.6 1315.4,700.6 1316.6,700.6 1317.7,700.6 1318.8,700.7 1319.9,700.7 1321,700.7 1322.1,700.7 1323.2,700.8 1324.3,700.8 1325.4,700.8 1326.5,700.8 1327.6,700.9 1328.8,700.9 1329.9,700.9 1331,700.9 1332.1,701 1333.2,701 1334.3,701 1335.4,701 1336.5,701.1 1337.6,701.1 1338.7,701.1 1339.8,701.2 1340.9,701.2 1342.1,701.2 1343.2,701.2 1344.3,701.3 1345.4,701.3 1346.5,701.3 1347.6,701.4 1348.7,701.4 1349.8,701.4 1350.9,701.4 1352,701.5 1353.1,701.5 1354.2,701.5 1355.4,701.6 1356.5,701.6 1357.6,701.7 1358.7,701.7 1359.8,701.8 1360.9,701.8 1362,701.8 1363.1,701.9 1364.2,702 1365.3,702 1366.4,702.1 1367.6,702.1 1368.7,702.2 1369.8,702.2 1370.9,702.3 1372,702.3 1373.1,702.4 1374.2,702.5 1375.3,702.5 1376.4,702.6 1377.5,702.6 1378.6,702.7 1379.7,702.8 1380.9,702.8 1382,702.9 1383.1,702.9 1384.2,703 1385.3,703 1386.4,703.1 1387.5,703.2 1388.6,703.2 1389.7,703.3 1390.8,703.3 1391.9,703.4 1393.1,703.4 1394.2,703.4 1395.3,703.5 1396.4,703.5 1397.5,703.6 1398.6,703.6 1399.7,703.6 1400.8,703.7 1401.9,703.7 1403,703.7 1404.1,703.7 1405.2,703.7 1406.4,703.8 1407.5,703.8 1408.6,703.8 1409.7,703.8 1410.8,703.8 1411.9,703.8 1413,703.8 1414.1,703.8 1415.2,703.8 1416.3,703.8 1417.4,703.8 1418.5,703.8 1419.7,703.9 1420.8,703.9 1421.9,703.9 1423,703.9 1424.1,703.9 1425.2,703.9 1426.3,703.9 1427.4,703.9 1428.5,703.9 1429.6,703.9 1430.7,703.9 1431.9,703.9 1433,703.9 1434.1,703.9 1435.2,703.9 1436.3,703.9 1437.4,703.9 1438.5,703.9 1439.6,703.9 1440.7,703.9 1441.8,703.9 1442.9,703.9 1444,703.9 1445.2,703.9 1446.3,703.9 1447.4,703.9 1448.5,703.8 1449.6,703.8 1450.7,703.8 1451.8,703.8 1452.9,703.8 1454,703.8 1455.1,703.8 1456.2,703.8 1457.4,703.8 1458.5,703.7 1459.6,703.7 1460.7,703.7 1461.8,703.7 1462.9,703.7 1464,703.7 1465.1,703.6 1466.2,703.6 1467.3,703.6 1468.4,703.5 1469.5,703.5 1470.7,703.5 1471.8,703.4 1472.9,703.4 1474,703.3 1475.1,703.2 1476.2,703.2 1477.3,703.1 1478.4,703 1479.5,702.9 1480.6,702.8 1481.7,702.6 1482.8,702.5 1484,702.3 1485.1,702.1 1486.2,701.9 1487.3,701.6 1488.4,701.2 1489.5,700.8 1490.6,700.4 1491.7,699.8 1492.8,699.2 1493.9,698.5 1495,697.6 1496.2,696.6 1497.3,695.5 1498.4,694.1 1499.5,692.6 1500.6,690.8 1501.7,688.8 1502.8,686.6 1503.9,684 1505,681.1 1506.1,678 1507.2,674.4 1508.3,670.5 1509.5,666.3 1510.6,661.6 1511.7,656.6 1512.8,651.2 1513.9,645.4 1515,639.3 1516.1,632.8 1517.2,626 1518.3,619 1519.4,611.8 1520.5,604.4 1521.7,596.9 1522.8,589.3 1523.9,581.8 1525,574.5 1526.1,567.3 1527.2,560.4 1528.3,553.9 1529.4,547.8 1530.5,542.3 1531.6,537.3 1532.7,533.1 1533.8,529.6 1535,527 1536.1,525.2 1537.2,524.2 1538.3,524.2 1539.4,524.9 1540.5,526.4 1541.6,528.6 1542.7,531.6 1543.8,535.2 1544.9,539.4 1546,544.2 1547.1,549.5 1548.3,555.2 1549.4,561.3 1550.5,567.7 1551.6,574.4 1552.7,581.2 1553.8,588 1554.9,595 1556,601.9 1557.1,608.7 1558.2,615.4 1559.3,621.9 1560.5,628.2 1561.6,634.2 1562.7,640 1563.8,645.5 1564.9,650.6 1566,655.4 1567.1,659.9 1568.2,664.1 1569.3,667.9 1570.4,671.4 1571.5,674.6 1572.6,677.5 1573.8,680.1 1574.9,682.4 1576,684.5 1577.1,686.3 1578.2,687.9 1579.3,689.3 1580.4,690.5 1581.5,691.6 1582.6,692.4 1583.7,693.2 1584.8,693.8 1586,694.3 1587.1,694.7 1588.2,695 1589.3,695.2 1590.4,695.4 1591.5,695.5 1592.6,695.5 1593.7,695.5 1594.8,695.4 1595.9,695.2 1597,695 1598.1,694.6 1599.3,694.2 1600.4,693.7 1601.5,693.1 1602.6,692.3 1603.7,691.4 1604.8,690.2 1605.9,688.8 1607,687.1 1608.1,685 1609.2,682.5 1610.3,679.4 1611.4,675.8 1612.6,671.5 1613.7,666.5 1614.8,660.5 1615.9,653.5 1617,645.4 1618.1,636.1 1619.2,625.4 1620.3,613.3 1621.4,599.7 1622.5,584.4 1623.6,567.5 1624.8,548.9 1625.9,528.7 1627,506.8 1628.1,483.4 1629.2,458.5 1630.3,432.4 1631.4,405.3 1632.5,377.4 1633.6,349 1634.7,320.5 1635.8,292.3 1636.9,264.9 1638.1,238.5 1639.2,213.7 1640.3,190.9 1641.4,170.7 1642.5,153.3 1643.6,139.1 1644.7,128.5 1645.8,121.8 1646.9,119 1648,121.6 1649.1,130.9 1650.3,146.5 1651.4,167.9 1652.5,194.1 1653.6,224.4 1654.7,257.6 1655.8,292.8 1656.9,328.9 1658,365 1659.1,400.3 1660.2,434.1 1661.3,465.7 1662.4,494.7 1663.6,521 1664.7,544.4 1665.8,564.9 1666.9,582.6 1668,597.7 1669.1,610.4 1670.2,621.1 1671.3,629.9 1672.4,637.2 1673.5,643.3 1674.6,648.4 1675.7,652.8 1676.9,656.5 1678,659.8 1679.1,662.8 1680.2,665.5 1681.3,668.1 1682.4,670.6 1683.5,673 1684.6,675.3 1685.7,677.6 1686.8,679.7 1687.9,681.8 1689.1,683.8 1690.2,685.6 1691.3,687.4 1692.4,689 1693.5,690.5 1694.6,691.8 1695.7,693.1 1696.8,694.2 1697.9,695.1 1699,696 1700.1,696.7 1701.2,697.4 1702.4,697.9 1703.5,698.4 1704.6,698.8 1705.7,699.1 1706.8,699.4 1707.9,699.6 1709,699.8 1710.1,699.9 1711.2,700.1 1712.3,700.2 1713.4,700.2 1714.6,700.3 1715.7,700.3 1716.8,700.4 1717.9,700.4 1719,700.4 1720.1,700.5 1721.2,700.5 1722.3,700.5 1723.4,700.5 1724.5,700.5 1725.6,700.5 1726.7,700.6 1727.9,700.6 1729,700.6 1730.1,700.6 1731.2,700.6 1732.3,700.6 1733.4,700.6 1734.5,700.6 1735.6,700.6 1736.7,700.6 1737.8,700.6 1738.9,700.6 1740,700.6 1741.2,700.6 1742.3,700.6 1743.4,700.7 1744.5,700.7 1745.6,700.7 1746.7,700.7 1747.8,700.7 1748.9,700.7 1750,700.7 1751.1,700.7 1752.2,700.7 1753.4,700.7 1754.5,700.7 1755.6,700.7 1756.7,700.7 1757.8,700.7 1758.9,700.7 1760,700.7 1761.1,700.7 1762.2,700.7 1763.3,700.7 1764.4,700.7 1765.5,700.7 1766.7,700.7 1767.8,700.7 1768.9,700.7 1770,700.7 1771.1,700.7 1772.2,700.7 1773.3,700.7 1774.4,700.7 1775.5,700.7 1776.6,700.8 1777.7,700.8 1778.9,700.8 1780,700.8 1781.1,700.8 1782.2,700.8 1783.3,700.8 1784.4,700.8 1785.5,700.8 1786.6,700.8 1787.7,700.8 1788.8,700.8 1789.9,700.8 1791,700.8 1792.2,700.8 1793.3,700.8 1794.4,700.8 1795.5,700.8 1796.6,700.8 1797.7,700.8 1798.8,700.8 1799.9,700.8 1801,700.8 1802.1,700.8 1803.2,700.8 1804.4,700.8 1805.5,700.8 1806.6,700.8 1807.7,700.8 1808.8,700.8 1809.9,700.8 1811,700.8 1812.1,700.8 1813.2,700.8 1814.3,700.8 1815.4,700.8 1816.5,700.8 1817.7,700.8 1818.8,700.8 1819.9,700.8 1821,700.8 1822.1,700.8 1823.2,700.8 1824.3,700.8 1825.4,700.8 1826.5,700.8 1827.6,700.8 1828.7,700.8 1829.8,700.8 1831,700.8 1832.1,700.8 1833.2,700.8 1834.3,700.8 1835.4,700.8 1836.5,700.8 1837.6,700.8 1838.7,700.8 1839.8,700.8 1840.9,700.8 1842,700.8 1843.2,700.8 1844.3,700.8 1845.4,700.8 1846.5,700.8 1847.6,700.8 1848.7,700.8 1849.8,700.8 1850.9,700.8 1852,700.8 1853.1,700.8 1854.2,700.8 1855.3,700.8 1856.5,700.8 1857.6,700.8 1858.7,700.8 1859.8,700.8 1860.9,700.8 1862,700.7 1863.1,700.7 1864.2,700.7 1865.3,700.7 1866.4,700.6 1867.5,700.6 1868.7,700.6 1869.8,700.6 1870.9,700.5 1872,700.5 1873.1,700.5 1874.2,700.4 1875.3,700.4 1876.4,700.4 1877.5,700.3 1878.6,700.3 1879.7,700.2 1880.8,700.2 1882,700.1 1883.1,700.1 1884.2,700.1 1885.3,700 1886.4,700 1887.5,699.9 1888.6,699.9 1889.7,699.8 1890.8,699.8 1891.9,699.7 1893,699.7 1894.1,699.6 1895.3,699.6 1896.4,699.5 1897.5,699.4 1898.6,699.4 1899.7,699.3 1900.8,699.3 1901.9,699.2 1903,699.2 1904.1,699.1 1905.2,699.1 1906.3,699 1907.5,699 1908.6,698.9 1909.7,698.8 1910.8,698.8 1911.9,698.7 1913,698.7 1914.1,698.6 1915.2,698.6 1916.3,698.5 1917.4,698.5 1918.5,698.4 1919.6,698.4 1920.8,698.3 1921.9,698.3 1923,698.2 1924.1,698.2 1925.2,698.1 1926.3,698.1 1927.4,698 1928.5,698 1929.6,697.9 1930.7,697.9 1931.8,697.8 1933,697.8 1934.1,697.7 1935.2,697.7 1936.3,697.7 1937.4,697.6 1938.5,697.6 1939.6,697.6 1940.7,697.5 1941.8,697.5 1942.9,697.5 1944,697.4 1945.1,697.4 1946.3,697.4 1947.4,697.3 1948.5,697.3 1949.6,697.3 1950.7,697.3 1951.8,697.3 1952.9,697.2 1954,697.2 1955.1,697.2 1956.2,697.2 1957.3,697.2 1958.4,697.2 1959.6,697.2 1960.7,697.2 1961.8,697.2 1962.9,697.2 1964,697.2 1965.1,697.2 1966.2,697.2 1967.3,697.2 1968.4,697.2 1969.5,697.2 1970.6,697.2 1971.8,697.2 1972.9,697.2 1974,697.2 1975.1,697.2 1976.2,697.2 1977.3,697.2 1978.4,697.2 1979.5,697.2 1980.6,697.2 1981.7,697.2 1982.8,697.2 1983.9,697.2 1985.1,697.2 1986.2,697.2 1987.3,697.2 1988.4,697.2 1989.5,697.2 1990.6,697.2 1991.7,697.2 1992.8,697.2 1993.9,697.2 1995,697.2 1996.1,697.2 1997.3,697.2 1998.4,697.2 1999.5,697.2 2000.6,697.2 2001.7,697.2 2002.8,697.2 2003.9,697.1 2005,697.1 2006.1,697.1 2007.2,697.1 2008.3,697.1 2009.4,697 2010.6,696.9 2011.7,696.9 2012.8,696.7 2013.9,696.6 2015,696.4 2016.1,696.2 2017.2,695.9 2018.3,695.6 2019.4,695.2 2020.5,694.7 2021.6,694.1 2022.7,693.4 2023.9,692.6 2025,691.7 2026.1,690.6 2027.2,689.4 2028.3,687.9 2029.4,686.1 2030.5,683.9 2031.6,680.8 2032.7,676.2 2033.8,669.5 2034.9,659.6 2036.1,645.4 2037.2,625.9 2038.3,600.7 2039.4,570.4 2040.5,537.1 2041.6,503.9 2042.7,475.1 2043.8,454.7 2044.9,446.1 2046,450.6 2047.1,467.5 2048.2,494 2049.4,526.1 2050.5,559.5 2051.6,590.8 2052.7,617.4 2053.8,638.6 2054.9,654.2 2056,665.3 2057.1,672.8 2058.2,677.9 2059.3,681.5 2060.4,684.1 2061.6,686.1 2062.7,687.8 2063.8,689.3 2064.9,690.6 2066,691.8 2067.1,692.9 2068.2,693.9 2069.3,694.7 2070.4,695.5 2071.5,696.1 2072.6,696.6 2073.7,697.1 2074.9,697.5 2076,697.8 2077.1,698.1 2078.2,698.3 2079.3,698.5 2080.4,698.7 2081.5,698.8 2082.6,698.9 2083.7,699 2084.8,699.1 2085.9,699.2 2087,699.2 2088.2,699.3 2089.3,699.3 2090.4,699.4 2091.5,699.4 2092.6,699.5 2093.7,699.5 2094.8,699.5 2095.9,699.6 2097,699.6 2098.1,699.6 2099.2,699.6 2100.4,699.7 2101.5,699.7 2102.6,699.7 2103.7,699.7 2104.8,699.7 2105.9,699.8 2107,699.8 2108.1,699.8 2109.2,699.8 2110.3,699.9 2111.4,699.9 2112.5,699.9 2113.7,699.9 2114.8,699.9 2115.9,700 2117,700 2118.1,700 2119.2,700 2120.3,700 2121.4,700.1 2122.5,700.1 2123.6,700.1 2124.7,700.1 2125.9,700.1 2127,700.2 2128.1,700.2 2129.2,700.2 2130.3,700.2 2131.4,700.2 2132.5,700.3 2133.6,700.3 2134.7,700.3 2135.8,700.3 2136.9,700.3 2138,700.3 2139.2,700.4 2140.3,700.4 2141.4,700.4 2142.5,700.4 2143.6,700.4 2144.7,700.4 2145.8,700.5 2146.9,700.5 2148,700.5 2149.1,700.5 2150.2,700.5 2151.3,700.5 2152.5,700.6 2153.6,700.6 2154.7,700.6 2155.8,700.6 2156.9,700.6 2158,700.6 2159.1,700.6 2160.2,700.7 2161.3,700.7 2162.4,700.7 2163.5,700.7 2164.7,700.7 2165.8,700.7 2166.9,700.7 2168,700.8 2169.1,700.8 2170.2,700.8 2171.3,700.8 2172.4,700.8 2173.5,700.8 2174.6,700.8 2175.7,700.8 2176.8,700.8 2178,700.9 2179.1,700.9 2180.2,700.9 2181.3,700.9 2182.4,700.9 2183.5,700.9" fill="none" stroke="#000000" stroke-width="3.3" stroke-linejoin="round" stroke-linecap="butt"/>
<polyline stroke-opacity="0.8" points="1296.6,700.3 1297.7,700.3 1298.8,700.4 1299.9,700.4 1301,700.4 1302.1,700.4 1303.3,700.4 1304.4,700.4 1305.5,700.4 1306.6,700.5 1307.7,700.5 1308.8,700.5 1309.9,700.5 1311,700.5 1312.1,700.5 1313.2,700.6 1314.3,700.6 1315.4,700.6 1316.6,700.6 1317.7,700.6 1318.8,700.7 1319.9,700.7 1321,700.7 1322.1,700.7 1323.2,700.8 1324.3,700.8 1325.4,700.8 1326.5,700.8 1327.6,700.9 1328.8,700.9 1329.9,700.9 1331,700.9 1332.1,701 1333.2,701 1334.3,701 1335.4,701 1336.5,701.1 1337.6,701.1 1338.7,701.1 1339.8,701.2 1340.9,701.2 1342.1,701.2 1343.2,701.2 1344.3,701.3 1345.4,701.3 1346.5,701.3 1347.6,701.4 1348.7,701.4 1349.8,701.4 1350.9,701.4 1352,701.5 1353.1,701.5 1354.2,701.5 1355.4,701.6 1356.5,701.6 1357.6,701.7 1358.7,701.7 1359.8,701.8 1360.9,701.8 1362,701.8 1363.1,701.9 1364.2,702 1365.3,702 1366.4,702.1 1367.6,702.1 1368.7,702.2 1369.8,702.2 1370.9,702.3 1372,702.3 1373.1,702.4 1374.2,702.5 1375.3,702.5 1376.4,702.6 1377.5,702.6 1378.6,702.7 1379.7,702.8 1380.9,702.8 1382,702.9 1383.1,702.9 1384.2,703 1385.3,703 1386.4,703.1 1387.5,703.2 1388.6,703.2 1389.7,703.3 1390.8,703.3 1391.9,703.4 1393.1,703.4 1394.2,703.4 1395.3,703.5 1396.4,703.5 1397.5,703.6 1398.6,703.6 1399.7,703.6 1400.8,703.7 1401.9,703.7 1403,703.7 1404.1,703.7 1405.2,703.7 1406.4,703.8 1407.5,703.8 1408.6,703.8 1409.7,703.8 1410.8,703.8 1411.9,703.8 1413,703.8 1414.1,703.8 1415.2,703.8 1416.3,703.8 1417.4,703.8 1418.5,703.8 1419.7,703.9 1420.8,703.9 1421.9,703.9 1423,703.9 1424.1,703.9 1425.2,703.9 1426.3,703.9 1427.4,703.9 1428.5,703.9 1429.6,703.9 1430.7,703.9 1431.9,703.9 1433,703.9 1434.1,703.9 1435.2,703.9 1436.3,703.9 1437.4,703.9 1438.5,703.9 1439.6,703.9 1440.7,703.9 1441.8,703.9 1442.9,703.9 1444,703.9 1445.2,703.9 1446.3,703.9 1447.4,703.9 1448.5,703.8 1449.6,703.8 1450.7,703.8 1451.8,703.8 1452.9,703.8 1454,703.8 1455.1,703.8 1456.2,703.8 1457.4,703.8 1458.5,703.7 1459.6,703.7 1460.7,703.7 1461.8,703.7 1462.9,703.7 1464,703.6 1465.1,703.6 1466.2,703.6 1467.3,703.6 1468.4,703.5 1469.5,703.5 1470.7,703.4 1471.8,703.4 1472.9,703.3 1474,703.3 1475.1,703.2 1476.2,703.2 1477.3,703.1 1478.4,703 1479.5,702.9 1480.6,702.8 1481.7,702.6 1482.8,702.5 1484,702.3 1485.1,702.1 1486.2,701.9 1487.3,701.6 1488.4,701.3 1489.5,700.9 1490.6,700.5 1491.7,699.9 1492.8,699.3 1493.9,698.6 1495,697.8 1496.2,696.8 1497.3,695.6 1498.4,694.3 1499.5,692.8 1500.6,691.1 1501.7,689.1 1502.8,686.9 1503.9,684.4 1505,681.6 1506.1,678.4 1507.2,674.9 1508.3,671.1 1509.5,666.9 1510.6,662.2 1511.7,657.2 1512.8,651.9 1513.9,646.1 1515,640 1516.1,633.5 1517.2,626.7 1518.3,619.7 1519.4,612.4 1520.5,604.9 1521.7,597.3 1522.8,589.7 1523.9,582 1525,574.5 1526.1,567.2 1527.2,560.1 1528.3,553.4 1529.4,547.1 1530.5,541.4 1531.6,536.2 1532.7,531.8 1533.8,528 1535,525.1 1536.1,523.1 1537.2,521.9 1538.3,521.6 1539.4,522.2 1540.5,523.5 1541.6,525.6 1542.7,528.4 1543.8,531.9 1544.9,536 1546,540.7 1547.1,546 1548.3,551.7 1549.4,557.8 1550.5,564.2 1551.6,570.9 1552.7,577.7 1553.8,584.7 1554.9,591.7 1556,598.7 1557.1,605.7 1558.2,612.5 1559.3,619.1 1560.5,625.6 1561.6,631.8 1562.7,637.7 1563.8,643.3 1564.9,648.6 1566,653.6 1567.1,658.3 1568.2,662.6 1569.3,666.5 1570.4,670.2 1571.5,673.5 1572.6,676.5 1573.8,679.2 1574.9,681.6 1576,683.8 1577.1,685.7 1578.2,687.3 1579.3,688.8 1580.4,690.1 1581.5,691.2 1582.6,692.1 1583.7,692.9 1584.8,693.5 1586,694.1 1587.1,694.5 1588.2,694.8 1589.3,695.1 1590.4,695.3 1591.5,695.4 1592.6,695.4 1593.7,695.4 1594.8,695.3 1595.9,695.1 1597,694.9 1598.1,694.6 1599.3,694.2 1600.4,693.7 1601.5,693.1 1602.6,692.3 1603.7,691.3 1604.8,690.2 1605.9,688.7 1607,687 1608.1,684.9 1609.2,682.4 1610.3,679.4 1611.4,675.7 1612.6,671.4 1613.7,666.3 1614.8,660.3 1615.9,653.4 1617,645.2 1618.1,635.9 1619.2,625.2 1620.3,613.1 1621.4,599.4 1622.5,584.1 1623.6,567.1 1624.8,548.5 1625.9,528.2 1627,506.2 1628.1,482.7 1629.2,457.8 1630.3,431.6 1631.4,404.4 1632.5,376.4 1633.6,348 1634.7,319.4 1635.8,291.2 1636.9,263.6 1638.1,237.2 1639.2,212.3 1640.3,189.5 1641.4,169.1 1642.5,151.7 1643.6,137.5 1644.7,126.9 1645.8,120.1 1646.9,117.3 1648,119.9 1649.1,129.3 1650.3,144.9 1651.4,166.4 1652.5,192.7 1653.6,223 1654.7,256.4 1655.8,291.7 1656.9,327.9 1658,364.1 1659.1,399.5 1660.2,433.4 1661.3,465.1 1662.4,494.2 1663.6,520.6 1664.7,544.1 1665.8,564.6 1666.9,582.4 1668,597.5 1669.1,610.3 1670.2,620.9 1671.3,629.8 1672.4,637.2 1673.5,643.3 1674.6,648.4 1675.7,652.7 1676.9,656.5 1678,659.8 1679.1,662.8 1680.2,665.5 1681.3,668.1 1682.4,670.6 1683.5,673 1684.6,675.3 1685.7,677.6 1686.8,679.7 1687.9,681.8 1689.1,683.8 1690.2,685.6 1691.3,687.4 1692.4,689 1693.5,690.5 1694.6,691.8 1695.7,693.1 1696.8,694.2 1697.9,695.1 1699,696 1700.1,696.7 1701.2,697.4 1702.4,697.9 1703.5,698.4 1704.6,698.8 1705.7,699.1 1706.8,699.4 1707.9,699.6 1709,699.8 1710.1,699.9 1711.2,700 1712.3,700.1 1713.4,700.2 1714.6,700.3 1715.7,700.3 1716.8,700.4 1717.9,700.4 1719,700.4 1720.1,700.5 1721.2,700.5 1722.3,700.5 1723.4,700.5 1724.5,700.5 1725.6,700.5 1726.7,700.6 1727.9,700.6 1729,700.6 1730.1,700.6 1731.2,700.6 1732.3,700.6 1733.4,700.6 1734.5,700.6 1735.6,700.6 1736.7,700.6 1737.8,700.6 1738.9,700.6 1740,700.6 1741.2,700.6 1742.3,700.6 1743.4,700.7 1744.5,700.7 1745.6,700.7 1746.7,700.7 1747.8,700.7 1748.9,700.7 1750,700.7 1751.1,700.7 1752.2,700.7 1753.4,700.7 1754.5,700.7 1755.6,700.7 1756.7,700.7 1757.8,700.7 1758.9,700.7 1760,700.7 1761.1,700.7 1762.2,700.7 1763.3,700.7 1764.4,700.7 1765.5,700.7 1766.7,700.7 1767.8,700.7 1768.9,700.7 1770,700.7 1771.1,700.7 1772.2,700.7 1773.3,700.7 1774.4,700.7 1775.5,700.7 1776.6,700.8 1777.7,700.8 1778.9,700.8 1780,700.8 1781.1,700.8 1782.2,700.8 1783.3,700.8 1784.4,700.8 1785.5,700.8 1786.6,700.8 1787.7,700.8 1788.8,700.8 1789.9,700.8 1791,700.8 1792.2,700.8 1793.3,700.8 1794.4,700.8 1795.5,700.8 1796.6,700.8 1797.7,700.8 1798.8,700.8 1799.9,700.8 1801,700.8 1802.1,700.8 1803.2,700.8 1804.4,700.8 1805.5,700.8 1806.6,700.8 1807.7,700.8 1808.8,700.8 1809.9,700.8 1811,700.8 1812.1,700.8 1813.2,700.8 1814.3,700.8 1815.4,700.8 1816.5,700.8 1817.7,700.8 1818.8,700.8 1819.9,700.8 1821,700.8 1822.1,700.8 1823.2,700.8 1824.3,700.8 1825.4,700.8 1826.5,700.8 1827.6,700.8 1828.7,700.8 1829.8,700.8 1831,700.8 1832.1,700.8 1833.2,700.8 1834.3,700.8 1835.4,700.8 1836.5,700.8 1837.6,700.8 1838.7,700.8 1839.8,700.8 1840.9,700.8 1842,700.8 1843.2,700.8 1844.3,700.8 1845.4,700.8 1846.5,700.8 1847.6,700.8 1848.7,700.8 1849.8,700.8 1850.9,700.8 1852,700.8 1853.1,700.8 1854.2,700.8 1855.3,700.8 1856.5,700.8 1857.6,700.8 1858.7,700.8 1859.8,700.8 1860.9,700.8 1862,700.7 1863.1,700.7 1864.2,700.7 1865.3,700.7 1866.4,700.6 1867.5,700.6 1868.7,700.6 1869.8,700.6 1870.9,700.5 1872,700.5 1873.1,700.5 1874.2,700.4 1875.3,700.4 1876.4,700.3 1877.5,700.3 1878.6,700.3 1879.7,700.2 1880.8,700.2 1882,700.1 1883.1,700.1 1884.2,700.1 1885.3,700 1886.4,700 1887.5,699.9 1888.6,699.9 1889.7,699.8 1890.8,699.8 1891.9,699.7 1893,699.7 1894.1,699.6 1895.3,699.6 1896.4,699.5 1897.5,699.4 1898.6,699.4 1899.7,699.3 1900.8,699.3 1901.9,699.2 1903,699.2 1904.1,699.1 1905.2,699.1 1906.3,699 1907.5,699 1908.6,698.9 1909.7,698.8 1910.8,698.8 1911.9,698.7 1913,698.7 1914.1,698.6 1915.2,698.6 1916.3,698.5 1917.4,698.5 1918.5,698.4 1919.6,698.4 1920.8,698.3 1921.9,698.3 1923,698.2 1924.1,698.2 1925.2,698.1 1926.3,698.1 1927.4,698 1928.5,698 1929.6,697.9 1930.7,697.9 1931.8,697.8 1933,697.8 1934.1,697.7 1935.2,697.7 1936.3,697.7 1937.4,697.6 1938.5,697.6 1939.6,697.6 1940.7,697.5 1941.8,697.5 1942.9,697.5 1944,697.4 1945.1,697.4 1946.3,697.4 1947.4,697.3 1948.5,697.3 1949.6,697.3 1950.7,697.3 1951.8,697.3 1952.9,697.2 1954,697.2 1955.1,697.2 1956.2,697.2 1957.3,697.2 1958.4,697.2 1959.6,697.2 1960.7,697.2 1961.8,697.2 1962.9,697.2 1964,697.2 1965.1,697.2 1966.2,697.2 1967.3,697.2 1968.4,697.2 1969.5,697.2 1970.6,697.2 1971.8,697.2 1972.9,697.2 1974,697.2 1975.1,697.2 1976.2,697.2 1977.3,697.2 1978.4,697.2 1979.5,697.2 1980.6,697.2 1981.7,697.2 1982.8,697.2 1983.9,697.2 1985.1,697.2 1986.2,697.2 1987.3,697.2 1988.4,697.2 1989.5,697.2 1990.6,697.2 1991.7,697.2 1992.8,697.2 1993.9,697.2 1995,697.2 1996.1,697.2 1997.3,697.2 1998.4,697.2 1999.5,697.2 2000.6,697.2 2001.7,697.2 2002.8,697.2 2003.9,697.1 2005,697.1 2006.1,697.1 2007.2,697.1 2008.3,697.1 2009.4,697 2010.6,696.9 2011.7,696.9 2012.8,696.7 2013.9,696.6 2015,696.4 2016.1,696.2 2017.2,695.9 2018.3,695.6 2019.4,695.2 2020.5,694.7 2021.6,694.1 2022.7,693.4 2023.9,692.6 2025,691.7 2026.1,690.6 2027.2,689.3 2028.3,687.9 2029.4,686.1 2030.5,683.8 2031.6,680.6 2032.7,676 2033.8,669 2034.9,658.7 2036.1,643.8 2037.2,623.3 2038.3,596.9 2039.4,565.1 2040.5,530.2 2041.6,495.3 2042.7,465 2043.8,443.6 2044.9,434.6 2046,439.3 2047.1,457.1 2048.2,484.9 2049.4,518.6 2050.5,553.8 2051.6,586.6 2052.7,614.6 2053.8,636.7 2054.9,653.1 2056,664.6 2057.1,672.4 2058.2,677.7 2059.3,681.4 2060.4,684 2061.6,686.1 2062.7,687.8 2063.8,689.3 2064.9,690.6 2066,691.8 2067.1,692.9 2068.2,693.9 2069.3,694.7 2070.4,695.5 2071.5,696.1 2072.6,696.6 2073.7,697.1 2074.9,697.5 2076,697.8 2077.1,698.1 2078.2,698.3 2079.3,698.5 2080.4,698.7 2081.5,698.8 2082.6,698.9 2083.7,699 2084.8,699.1 2085.9,699.2 2087,699.2 2088.2,699.3 2089.3,699.3 2090.4,699.4 2091.5,699.4 2092.6,699.5 2093.7,699.5 2094.8,699.5 2095.9,699.6 2097,699.6 2098.1,699.6 2099.2,699.6 2100.4,699.7 2101.5,699.7 2102.6,699.7 2103.7,699.7 2104.8,699.7 2105.9,699.8 2107,699.8 2108.1,699.8 2109.2,699.8 2110.3,699.9 2111.4,699.9 2112.5,699.9 2113.7,699.9 2114.8,699.9 2115.9,700 2117,700 2118.1,700 2119.2,700 2120.3,700 2121.4,700.1 2122.5,700.1 2123.6,700.1 2124.7,700.1 2125.9,700.1 2127,700.2 2128.1,700.2 2129.2,700.2 2130.3,700.2 2131.4,700.2 2132.5,700.3 2133.6,700.3 2134.7,700.3 2135.8,700.3 2136.9,700.3 2138,700.3 2139.2,700.4 2140.3,700.4 2141.4,700.4 2142.5,700.4 2143.6,700.4 2144.7,700.4 2145.8,700.5 2146.9,700.5 2148,700.5 2149.1,700.5 2150.2,700.5 2151.3,700.5 2152.5,700.6 2153.6,700.6 2154.7,700.6 2155.8,700.6 2156.9,700.6 2158,700.6 2159.1,700.6 2160.2,700.7 2161.3,700.7 2162.4,700.7 2163.5,700.7 2164.7,700.7 2165.8,700.7 2166.9,700.7 2168,700.8 2169.1,700.8 2170.2,700.8 2171.3,700.8 2172.4,700.8 2173.5,700.8 2174.6,700.8 2175.7,700.8 2176.8,700.8 2178,700.9 2179.1,700.9 2180.2,700.9 2181.3,700.9 2182.4,700.9 2183.5,700.9" fill="none" stroke="#ff00ff" stroke-width="3.3" stroke-linejoin="round" stroke-linecap="butt"/>
<rect x="1296.6" y="67.2" width="886.9" height="658.4" fill="none" stroke="#000" stroke-width="4.8"/>
<path d="M1296.6 725.6v14.5M1407.5 725.6v14.5M1518.3 725.6v14.5M1629.2 725.6v14.5M1740 725.6v14.5M1850.9 725.6v14.5M1961.8 725.6v14.5M2072.6 725.6v14.5M2183.5 725.6v14.5M1352 725.6v8.5M1462.9 725.6v8.5M1573.8 725.6v8.5M1684.6 725.6v8.5M1795.5 725.6v8.5M1906.3 725.6v8.5M2017.2 725.6v8.5M2128.1 725.6v8.5" stroke="#000" stroke-width="3.6" fill="none"/>
<text x="1296.6" y="777.1" font-size="37.5" text-anchor="middle">-1.2</text>
<text x="1407.5" y="777.1" font-size="37.5" text-anchor="middle">-1.0</text>
<text x="1518.3" y="777.1" font-size="37.5" text-anchor="middle">-0.8</text>
<text x="1629.2" y="777.1" font-size="37.5" text-anchor="middle">-0.6</text>
<text x="1740" y="777.1" font-size="37.5" text-anchor="middle">-0.4</text>
<text x="1850.9" y="777.1" font-size="37.5" text-anchor="middle">-0.2</text>
<text x="1961.8" y="777.1" font-size="37.5" text-anchor="middle">0.0</text>
<text x="2072.6" y="777.1" font-size="37.5" text-anchor="middle">0.2</text>
<text x="2183.5" y="777.1" font-size="37.5" text-anchor="middle">0.4</text>
<path d="M1296.6 725.6h-14.5M1296.6 643.3h-14.5M1296.6 561h-14.5M1296.6 478.7h-14.5M1296.6 396.4h-14.5M1296.6 314.1h-14.5M1296.6 231.8h-14.5M1296.6 149.5h-14.5M1296.6 67.2h-14.5M1296.6 684.5h-8.5M1296.6 602.2h-8.5M1296.6 519.9h-8.5M1296.6 437.6h-8.5M1296.6 355.3h-8.5M1296.6 273h-8.5M1296.6 190.7h-8.5M1296.6 108.4h-8.5" stroke="#000" stroke-width="3.6" fill="none"/>
<text x="1274.6" y="736.1" font-size="37.5" text-anchor="end">0</text>
<text x="1274.6" y="653.8" font-size="37.5" text-anchor="end">10</text>
<text x="1274.6" y="571.5" font-size="37.5" text-anchor="end">20</text>
<text x="1274.6" y="489.2" font-size="37.5" text-anchor="end">30</text>
<text x="1274.6" y="406.9" font-size="37.5" text-anchor="end">40</text>
<text x="1274.6" y="324.6" font-size="37.5" text-anchor="end">50</text>
<text x="1274.6" y="242.3" font-size="37.5" text-anchor="end">60</text>
<text x="1274.6" y="160" font-size="37.5" text-anchor="end">70</text>
<text x="1274.6" y="77.7" font-size="37.5" text-anchor="end">80</text>
<text transform="translate(1200.7 392.5) rotate(-90) scale(0.98 1)" font-size="55" text-anchor="middle">Current/μA</text>
<text transform="translate(1744 846) scale(0.975 1)" font-size="55" text-anchor="middle">potential/V</text>
<text x="1544" y="484" font-size="38" text-anchor="middle">Cd(II)</text>
<text x="1642" y="105" font-size="38" text-anchor="middle">Pb(II)</text>
<text x="2054" y="410" font-size="38" text-anchor="middle">Hg(II)</text>
<text x="1182" y="162.5" font-size="153" text-anchor="middle">b</text>
</g>
<g id="panel-c">
<polyline points="284.3,1413.2 462.6,1442.3 640.9,1499.2 819.2,1482 997.5,1468.7" fill="none" stroke="#ff00ff" stroke-width="3.2" stroke-linejoin="round" stroke-linecap="butt"/>
<rect x="274.8" y="1403.7" width="19" height="19" fill="#ff00ff"/>
<rect x="453.1" y="1432.8" width="19" height="19" fill="#ff00ff"/>
<rect x="631.4" y="1489.7" width="19" height="19" fill="#ff00ff"/>
<rect x="809.7" y="1472.5" width="19" height="19" fill="#ff00ff"/>
<rect x="988" y="1459.2" width="19" height="19" fill="#ff00ff"/>
<polyline points="284.3,925 462.6,932.9 640.9,1046.7 819.2,1091.7 997.5,1017.6" fill="none" stroke="#ff0000" stroke-width="3.2" stroke-linejoin="round" stroke-linecap="butt"/>
<circle cx="284.3" cy="925" r="11" fill="#ff0000"/>
<circle cx="462.6" cy="932.9" r="11" fill="#ff0000"/>
<circle cx="640.9" cy="1046.7" r="11" fill="#ff0000"/>
<circle cx="819.2" cy="1091.7" r="11" fill="#ff0000"/>
<circle cx="997.5" cy="1017.6" r="11" fill="#ff0000"/>
<polyline points="284.3,1478 462.6,1480.6 640.9,1470.1 819.2,1492.6 997.5,1478" fill="none" stroke="#0000ff" stroke-width="3.2" stroke-linejoin="round" stroke-linecap="butt"/>
<path d="M284.3 1463.5L296.2 1484.8H272.5Z" fill="#0000ff"/>
<path d="M462.6 1466.1L474.5 1487.5H450.7Z" fill="#0000ff"/>
<path d="M640.9 1455.5L652.8 1476.9H629Z" fill="#0000ff"/>
<path d="M819.2 1478L831.1 1499.4H807.3Z" fill="#0000ff"/>
<path d="M997.5 1463.5L1009.3 1484.8H985.6Z" fill="#0000ff"/>
<rect x="195.2" y="885.3" width="891.4" height="661.5" fill="none" stroke="#000" stroke-width="5.5"/>
<path d="M284.3 1546.8v14.5M462.6 1546.8v14.5M640.9 1546.8v14.5M819.2 1546.8v14.5M997.5 1546.8v14.5" stroke="#000" stroke-width="4.2" fill="none"/>
<text x="284.3" y="1601.8" font-size="37.5" text-anchor="middle">A</text>
<text x="462.6" y="1601.8" font-size="37.5" text-anchor="middle">B</text>
<text x="640.9" y="1602.3" font-size="37.5" text-anchor="middle">C</text>
<text x="819.2" y="1601.8" font-size="37.5" text-anchor="middle">D</text>
<text x="997.5" y="1598.3" font-size="37.5" text-anchor="middle">E</text>
<path d="M195.2 1480.6h-14.5M195.2 1348.3h-14.5M195.2 1216h-14.5M195.2 1083.8h-14.5M195.2 951.4h-14.5M195.2 1414.5h-8.5M195.2 1282.2h-8.5M195.2 1149.9h-8.5M195.2 1017.6h-8.5M195.2 885.3h-8.5" stroke="#000" stroke-width="4.2" fill="none"/>
<text x="173.2" y="1491.1" font-size="37.5" text-anchor="end">10</text>
<text x="173.2" y="1358.8" font-size="37.5" text-anchor="end">15</text>
<text x="173.2" y="1226.5" font-size="37.5" text-anchor="end">20</text>
<text x="173.2" y="1094.2" font-size="37.5" text-anchor="end">25</text>
<text x="173.2" y="961.9" font-size="37.5" text-anchor="end">30</text>
<text transform="translate(103.6 1218.7) rotate(-90) scale(0.976 1)" font-size="56" text-anchor="middle">Current/μA</text>
<text x="653.4" y="1664.5" font-size="51.2" text-anchor="middle">Electrodes</text>
<path d="M265 1142H359" stroke="#ff00ff" stroke-width="3.3"/>
<rect x="302.5" y="1132.5" width="19" height="19" fill="#ff00ff"/>
<text x="368" y="1155.3" font-size="40.5" text-anchor="start">Cd(II)</text>
<text x="529.5" y="1155.3" font-size="40.5" text-anchor="start">RSD = 11.7 %</text>
<path d="M265 1193H359" stroke="#ff0000" stroke-width="3.3"/>
<circle cx="312" cy="1193" r="11" fill="#ff0000"/>
<text x="368" y="1206.3" font-size="40.5" text-anchor="start">Pb(II)</text>
<text x="534.5" y="1206.3" font-size="40.5" text-anchor="start">RSD = 9.6%</text>
<path d="M265 1244H359" stroke="#0000ff" stroke-width="3.3"/>
<path d="M312 1229.5L323.9 1250.8H300.1Z" fill="#0000ff"/>
<text x="368" y="1257.3" font-size="40.5" text-anchor="start">Hg(II)</text>
<text x="538.5" y="1257.3" font-size="40.5" text-anchor="start">RSD = 3.0 %</text>
<text x="84" y="965.5" font-size="156" text-anchor="middle">c</text>
</g>
<g id="panel-d">
<polyline points="1375.8,1494.8 1457.2,1491.1 1538.5,1483.9 1619.9,1476.7 1701.3,1488.7 1782.7,1508 1864.1,1493.6 1945.5,1491.1 2026.8,1504.4 2108.2,1496" fill="none" stroke="#ff00ff" stroke-width="3.2" stroke-linejoin="round" stroke-linecap="butt"/>
<rect x="1366.3" y="1485.3" width="19" height="19" fill="#ff00ff"/>
<rect x="1447.7" y="1481.6" width="19" height="19" fill="#ff00ff"/>
<rect x="1529" y="1474.4" width="19" height="19" fill="#ff00ff"/>
<rect x="1610.4" y="1467.2" width="19" height="19" fill="#ff00ff"/>
<rect x="1691.8" y="1479.2" width="19" height="19" fill="#ff00ff"/>
<rect x="1773.2" y="1498.5" width="19" height="19" fill="#ff00ff"/>
<rect x="1854.6" y="1484.1" width="19" height="19" fill="#ff00ff"/>
<rect x="1936" y="1481.6" width="19" height="19" fill="#ff00ff"/>
<rect x="2017.3" y="1494.9" width="19" height="19" fill="#ff00ff"/>
<rect x="2098.7" y="1486.5" width="19" height="19" fill="#ff00ff"/>
<polyline points="1375.8,948.2 1457.2,936.1 1538.5,919.2 1619.9,910.8 1701.3,919.2 1782.7,928.9 1864.1,920.5 1945.5,910.8 2026.8,918 2108.2,914.4" fill="none" stroke="#ff0000" stroke-width="3.2" stroke-linejoin="round" stroke-linecap="butt"/>
<circle cx="1375.8" cy="948.2" r="11" fill="#ff0000"/>
<circle cx="1457.2" cy="936.1" r="11" fill="#ff0000"/>
<circle cx="1538.5" cy="919.2" r="11" fill="#ff0000"/>
<circle cx="1619.9" cy="910.8" r="11" fill="#ff0000"/>
<circle cx="1701.3" cy="919.2" r="11" fill="#ff0000"/>
<circle cx="1782.7" cy="928.9" r="11" fill="#ff0000"/>
<circle cx="1864.1" cy="920.5" r="11" fill="#ff0000"/>
<circle cx="1945.5" cy="910.8" r="11" fill="#ff0000"/>
<circle cx="2026.8" cy="918" r="11" fill="#ff0000"/>
<circle cx="2108.2" cy="914.4" r="11" fill="#ff0000"/>
<polyline points="1375.8,1435.6 1457.2,1433.2 1538.5,1423.6 1619.9,1413.9 1701.3,1416.3 1782.7,1412.7 1864.1,1399.4 1945.5,1388.6 2026.8,1387.4 2108.2,1375.3" fill="none" stroke="#0000ff" stroke-width="3.2" stroke-linejoin="round" stroke-linecap="butt"/>
<path d="M1375.8 1421.1L1387.7 1442.5H1363.9Z" fill="#0000ff"/>
<path d="M1457.2 1418.7L1469 1440.1H1445.3Z" fill="#0000ff"/>
<path d="M1538.5 1409.1L1550.4 1430.4H1526.7Z" fill="#0000ff"/>
<path d="M1619.9 1399.4L1631.8 1420.7H1608Z" fill="#0000ff"/>
<path d="M1701.3 1401.8L1713.2 1423.2H1689.4Z" fill="#0000ff"/>
<path d="M1782.7 1398.2L1794.6 1419.5H1770.8Z" fill="#0000ff"/>
<path d="M1864.1 1384.9L1876 1406.3H1852.2Z" fill="#0000ff"/>
<path d="M1945.5 1374.1L1957.3 1395.4H1933.6Z" fill="#0000ff"/>
<path d="M2026.8 1372.9L2038.7 1394.2H2015Z" fill="#0000ff"/>
<path d="M2108.2 1360.8L2120.1 1382.1H2096.3Z" fill="#0000ff"/>
<rect x="1294.4" y="892.7" width="895.2" height="663.6" fill="none" stroke="#000" stroke-width="5.5"/>
<path d="M1294.4 1556.3v14.5M1457.2 1556.3v14.5M1619.9 1556.3v14.5M1782.7 1556.3v14.5M1945.5 1556.3v14.5M2108.2 1556.3v14.5M1375.8 1556.3v8.5M1538.5 1556.3v8.5M1701.3 1556.3v8.5M1864.1 1556.3v8.5M2026.8 1556.3v8.5M2189.6 1556.3v8.5" stroke="#000" stroke-width="4.2" fill="none"/>
<text x="1294.4" y="1610.6" font-size="37.5" text-anchor="middle">0</text>
<text x="1457.2" y="1610.6" font-size="37.5" text-anchor="middle">2</text>
<text x="1619.9" y="1610.6" font-size="37.5" text-anchor="middle">4</text>
<text x="1782.7" y="1610.6" font-size="37.5" text-anchor="middle">6</text>
<text x="1945.5" y="1610.6" font-size="37.5" text-anchor="middle">8</text>
<text x="2108.2" y="1610.6" font-size="37.5" text-anchor="middle">10</text>
<path d="M1294.4 1556.3h-14.5M1294.4 1435.6h-14.5M1294.4 1315h-14.5M1294.4 1194.3h-14.5M1294.4 1073.7h-14.5M1294.4 953h-14.5M1294.4 1496h-8.5M1294.4 1375.3h-8.5M1294.4 1254.7h-8.5M1294.4 1134h-8.5M1294.4 1013.4h-8.5M1294.4 892.7h-8.5" stroke="#000" stroke-width="4.2" fill="none"/>
<text x="1272.4" y="1566.8" font-size="37.5" text-anchor="end">20</text>
<text x="1272.4" y="1446.1" font-size="37.5" text-anchor="end">30</text>
<text x="1272.4" y="1325.5" font-size="37.5" text-anchor="end">40</text>
<text x="1272.4" y="1204.8" font-size="37.5" text-anchor="end">50</text>
<text x="1272.4" y="1084.2" font-size="37.5" text-anchor="end">60</text>
<text x="1272.4" y="963.5" font-size="37.5" text-anchor="end">70</text>
<text transform="translate(1202.3 1222) rotate(-90) scale(0.98 1)" font-size="56" text-anchor="middle">Current/μA</text>
<text x="1721.8" y="1666" font-size="51.6" text-anchor="middle">Number of runs</text>
<path d="M1402 1126H1496" stroke="#ff00ff" stroke-width="3.3"/>
<rect x="1439.5" y="1116.5" width="19" height="19" fill="#ff00ff"/>
<text x="1505.5" y="1139.3" font-size="40.5" text-anchor="start">Cd(II)</text>
<text x="1667" y="1139.3" font-size="40.5" text-anchor="start">RSD = 2.7 %</text>
<path d="M1402 1177H1496" stroke="#ff0000" stroke-width="3.3"/>
<circle cx="1449" cy="1177" r="11" fill="#ff0000"/>
<text x="1505.5" y="1190.3" font-size="40.5" text-anchor="start">Pb(II)</text>
<text x="1662" y="1190.3" font-size="40.5" text-anchor="start">RSD = 1.2%</text>
<path d="M1402 1228H1496" stroke="#0000ff" stroke-width="3.3"/>
<path d="M1449 1213.5L1460.9 1234.8H1437.1Z" fill="#0000ff"/>
<text x="1505.5" y="1241.3" font-size="40.5" text-anchor="start">Hg(II)</text>
<text x="1657" y="1241.3" font-size="40.5" text-anchor="start">RSD = 8.6 %</text>
<text x="1190" y="1015.3" font-size="153" text-anchor="middle">d</text>
</g>
<g id="panel-e">
<polyline points="796.4,1734.9 888.9,1741.5 981.5,1761.2 1074,1774.3 1166.5,1787.5 1259.1,1823.6 1351.6,1863 1444.2,1905.7 1536.7,1925.4 1629.2,1984.5" fill="none" stroke="#ff00ff" stroke-width="3" stroke-linejoin="round" stroke-linecap="butt"/>
<rect x="790.2" y="1728.7" width="12.4" height="12.4" fill="#ff00ff"/>
<rect x="882.7" y="1735.3" width="12.4" height="12.4" fill="#ff00ff"/>
<rect x="975.3" y="1755" width="12.4" height="12.4" fill="#ff00ff"/>
<rect x="1067.8" y="1768.1" width="12.4" height="12.4" fill="#ff00ff"/>
<rect x="1160.3" y="1781.3" width="12.4" height="12.4" fill="#ff00ff"/>
<rect x="1252.9" y="1817.4" width="12.4" height="12.4" fill="#ff00ff"/>
<rect x="1345.4" y="1856.8" width="12.4" height="12.4" fill="#ff00ff"/>
<rect x="1438" y="1899.5" width="12.4" height="12.4" fill="#ff00ff"/>
<rect x="1530.5" y="1919.2" width="12.4" height="12.4" fill="#ff00ff"/>
<rect x="1623" y="1978.3" width="12.4" height="12.4" fill="#ff00ff"/>
<polyline points="796.4,1728.3 888.9,1731.6 981.5,1741.5 1074,1748 1166.5,1744.8 1259.1,1764.5 1351.6,1790.7 1444.2,1840 1536.7,1863 1629.2,1872.9" fill="none" stroke="#ff0000" stroke-width="3" stroke-linejoin="round" stroke-linecap="butt"/>
<circle cx="796.4" cy="1728.3" r="7" fill="#ff0000"/>
<circle cx="888.9" cy="1731.6" r="7" fill="#ff0000"/>
<circle cx="981.5" cy="1741.5" r="7" fill="#ff0000"/>
<circle cx="1074" cy="1748" r="7" fill="#ff0000"/>
<circle cx="1166.5" cy="1744.8" r="7" fill="#ff0000"/>
<circle cx="1259.1" cy="1764.5" r="7" fill="#ff0000"/>
<circle cx="1351.6" cy="1790.7" r="7" fill="#ff0000"/>
<circle cx="1444.2" cy="1840" r="7" fill="#ff0000"/>
<circle cx="1536.7" cy="1863" r="7" fill="#ff0000"/>
<circle cx="1629.2" cy="1872.9" r="7" fill="#ff0000"/>
<polyline points="796.4,1721.8 888.9,1738.2 981.5,1751.3 1074,1761.2 1166.5,1764.5 1259.1,1771 1351.6,1780.9 1444.2,1797.3 1536.7,1813.7 1629.2,1820.3" fill="none" stroke="#0000ff" stroke-width="3" stroke-linejoin="round" stroke-linecap="butt"/>
<path d="M796.4 1712.5L804 1726.1H788.8Z" fill="#0000ff"/>
<path d="M888.9 1729L896.5 1742.5H881.4Z" fill="#0000ff"/>
<path d="M981.5 1742.1L989 1755.7H973.9Z" fill="#0000ff"/>
<path d="M1074 1751.9L1081.6 1765.5H1066.4Z" fill="#0000ff"/>
<path d="M1166.5 1755.2L1174.1 1768.8H1159Z" fill="#0000ff"/>
<path d="M1259.1 1761.8L1266.6 1775.4H1251.5Z" fill="#0000ff"/>
<path d="M1351.6 1771.6L1359.2 1785.2H1344.1Z" fill="#0000ff"/>
<path d="M1444.2 1788.1L1451.7 1801.7H1436.6Z" fill="#0000ff"/>
<path d="M1536.7 1804.5L1544.3 1818.1H1529.1Z" fill="#0000ff"/>
<path d="M1629.2 1811.1L1636.8 1824.6H1621.7Z" fill="#0000ff"/>
<rect x="760.3" y="1715.2" width="886.9" height="656.9" fill="none" stroke="#000" stroke-width="5.5"/>
<path d="M796.4 2372.1v14.5M888.9 2372.1v14.5M981.5 2372.1v14.5M1074 2372.1v14.5M1166.5 2372.1v14.5M1259.1 2372.1v14.5M1351.6 2372.1v14.5M1444.2 2372.1v14.5M1536.7 2372.1v14.5M1629.2 2372.1v14.5M842.7 2372.1v8.5M935.2 2372.1v8.5M1027.7 2372.1v8.5M1120.3 2372.1v8.5M1212.8 2372.1v8.5M1305.4 2372.1v8.5M1397.9 2372.1v8.5M1490.4 2372.1v8.5M1583 2372.1v8.5" stroke="#000" stroke-width="4.2" fill="none"/>
<text x="796.4" y="2425.1" font-size="37.5" text-anchor="middle">1</text>
<text x="888.9" y="2425.1" font-size="37.5" text-anchor="middle">2</text>
<text x="981.5" y="2425.1" font-size="37.5" text-anchor="middle">3</text>
<text x="1074" y="2425.1" font-size="37.5" text-anchor="middle">4</text>
<text x="1166.5" y="2425.1" font-size="37.5" text-anchor="middle">5</text>
<text x="1259.1" y="2425.1" font-size="37.5" text-anchor="middle">6</text>
<text x="1351.6" y="2425.1" font-size="37.5" text-anchor="middle">7</text>
<text x="1444.2" y="2425.1" font-size="37.5" text-anchor="middle">8</text>
<text x="1536.7" y="2425.1" font-size="37.5" text-anchor="middle">9</text>
<text x="1629.2" y="2425.1" font-size="37.5" text-anchor="middle">10</text>
<path d="M760.3 2372.1h-14.5M760.3 2306.4h-14.5M760.3 2240.7h-14.5M760.3 2175h-14.5M760.3 2109.3h-14.5M760.3 2043.7h-14.5M760.3 1978h-14.5M760.3 1912.3h-14.5M760.3 1846.6h-14.5M760.3 1780.9h-14.5M760.3 1715.2h-14.5M760.3 2339.3h-8.5M760.3 2273.6h-8.5M760.3 2207.9h-8.5M760.3 2142.2h-8.5M760.3 2076.5h-8.5M760.3 2010.8h-8.5M760.3 1945.1h-8.5M760.3 1879.4h-8.5M760.3 1813.7h-8.5M760.3 1748h-8.5" stroke="#000" stroke-width="4.2" fill="none"/>
<text x="738.3" y="2382.6" font-size="37.5" text-anchor="end">80</text>
<text x="738.3" y="2316.9" font-size="37.5" text-anchor="end">82</text>
<text x="738.3" y="2251.2" font-size="37.5" text-anchor="end">84</text>
<text x="738.3" y="2185.5" font-size="37.5" text-anchor="end">86</text>
<text x="738.3" y="2119.8" font-size="37.5" text-anchor="end">88</text>
<text x="738.3" y="2054.2" font-size="37.5" text-anchor="end">90</text>
<text x="738.3" y="1988.5" font-size="37.5" text-anchor="end">92</text>
<text x="738.3" y="1922.8" font-size="37.5" text-anchor="end">94</text>
<text x="738.3" y="1857.1" font-size="37.5" text-anchor="end">96</text>
<text x="738.3" y="1791.4" font-size="37.5" text-anchor="end">98</text>
<text x="738.3" y="1725.7" font-size="37.5" text-anchor="end">100</text>
<text transform="translate(666.5 2035) rotate(-90) scale(0.982 1)" font-size="52" text-anchor="middle">Current percentage/%</text>
<text x="1205" y="2487" font-size="54.3" text-anchor="middle">t/day</text>
<path d="M802.5 2169H881" stroke="#ff00ff" stroke-width="3"/>
<rect x="835.2" y="2162.5" width="13" height="13" fill="#ff00ff"/>
<text x="889" y="2181.5" font-size="36.5" text-anchor="start">Cd(II)</text>
<path d="M802.5 2215H881" stroke="#ff0000" stroke-width="3"/>
<circle cx="841.8" cy="2215" r="7.5" fill="#ff0000"/>
<text x="889" y="2227.5" font-size="36.5" text-anchor="start">Pb(II)</text>
<path d="M802.5 2261H881" stroke="#0000ff" stroke-width="3"/>
<path d="M841.8 2251.1L849.9 2265.7H833.6Z" fill="#0000ff"/>
<text x="889" y="2273.5" font-size="36.5" text-anchor="start">Hg(II)</text>
<text x="637" y="1772" font-size="156" text-anchor="middle">e</text>
</g>
</svg></body></html>
